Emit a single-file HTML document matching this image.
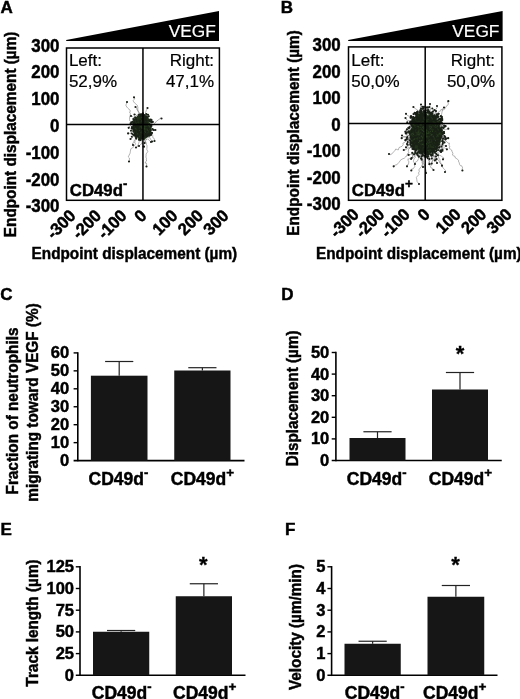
<!DOCTYPE html><html><head><meta charset="utf-8"><title>Figure</title>
<style>html,body{margin:0;padding:0;background:#fff;overflow:hidden;}svg{display:block;font-family:'Liberation Sans', Arial, Helvetica, sans-serif;}</style></head><body>
<svg width="520" height="699" viewBox="0 0 520 699">
<rect width="520" height="699" fill="#fff"/>
<text transform="translate(0.6 12.5)" font-size="17" font-weight="bold" stroke="#000" stroke-width="0.45" text-anchor="start" fill="#000">A</text>
<polygon points="66.2,40.1 219.0,11.1 219.0,40.9 66.2,40.9" fill="#000"/>
<text transform="translate(215.8 37.2)" font-size="17.3" stroke="#fff" stroke-width="0.2" text-anchor="end" fill="#fff">VEGF</text>
<path d="M138.6,129.0 138.3,128.3 138.1,127.9 137.8,126.8 138.0,124.7 137.4,123.1 138.5,121.8 138.7,121.0 138.2,118.6 138.6,117.0 138.8,114.8 138.2,114.5 138.9,112.3 137.6,111.0 137.8,109.8 137.8,107.9 137.9,107.4 137.2,105.1 136.4,104.4 134.7,103.1 133.7,101.8 133.2,100.5 134.0,99.6 134.7,98.3 134.0,97.3M133.1,127.1 133.0,125.1 133.1,123.6 131.0,122.3 130.1,120.9 129.7,120.7 129.5,119.6 129.6,117.1 130.3,115.2 130.3,113.3 129.4,111.9 130.5,111.3 129.8,110.0 128.7,108.9 128.0,108.3 126.8,107.0 125.9,105.3 126.2,104.3 126.4,104.1 127.0,102.0M143.6,120.6 142.7,120.7 141.8,119.0 141.2,117.6 140.4,115.6 140.5,114.9 139.6,113.8 139.3,113.1 138.8,112.3 137.9,110.1 136.7,109.4 136.7,108.2 135.5,107.0M147.0,132.4 147.5,131.0 147.4,128.8 148.5,127.4 150.2,127.0 151.7,126.6 152.3,124.3 153.6,124.9 154.9,122.7 156.0,122.3 156.2,121.6 156.7,121.1 158.3,119.9 160.7,118.2 161.2,118.2 161.5,118.5M141.8,123.4 141.2,124.8 140.7,125.9 141.0,125.5 140.0,126.6 140.7,126.4 139.9,126.9 138.8,128.7 138.5,131.1 137.5,132.6 137.7,134.6 136.9,136.7 135.6,139.4 135.1,140.6 134.8,142.6 135.5,143.8 134.6,145.5 133.4,145.6 133.4,146.6 133.6,147.1 130.9,148.7 130.4,151.2 130.2,152.7 130.0,153.8 129.5,154.1 129.3,154.8 128.4,156.6 128.5,157.2 129.4,158.0 129.4,160.1 129.0,161.5M147.4,130.7 147.5,130.5 146.6,132.5 146.4,132.9 145.6,133.9 145.8,135.3 146.3,135.9 146.7,136.6 146.2,139.1 145.9,140.1 145.4,141.0 146.3,143.2 146.5,144.5 147.0,145.6 147.0,147.0 146.8,149.4 147.8,151.6 146.0,154.1 146.2,154.9 145.9,157.0 146.5,158.7 146.3,159.9 146.6,161.0 145.6,161.7 145.2,163.1 146.5,163.2 146.6,164.3 146.5,166.5M145.7,126.7 146.1,126.8 146.9,128.8 147.5,130.4 148.8,131.7 150.5,132.7 150.6,132.9 152.1,133.7 152.7,135.4 152.9,137.8 154.2,138.5 154.6,140.4 154.5,141.0M141.9,128.1 142.5,129.5 142.9,130.6 144.4,132.3 144.7,134.7 143.8,136.0 144.9,137.9 145.6,138.8 146.7,139.8 147.6,138.8 148.5,139.4 149.8,141.1 151.0,142.0M143.2,126.0 142.5,127.1 141.0,129.7 140.6,129.4 140.4,129.5 139.3,130.3 138.0,131.6 136.9,131.7 136.0,133.2 136.4,134.1 134.6,135.0 134.2,135.5 132.8,137.1 131.9,138.4 130.5,139.0M140.9,126.7 140.1,126.0 139.9,125.4 139.7,123.8 138.2,123.4 137.6,122.5 136.2,121.3 135.1,119.7 134.1,117.6 133.5,117.4 132.4,116.5 131.0,116.0M147.7,122.6 147.4,122.4 147.6,121.3 146.0,119.9 146.7,119.7 147.1,118.0 146.5,115.4 145.6,115.0 145.5,112.7 146.4,110.2 147.3,108.7 147.5,108.0M142.7,132.1 142.4,133.2 141.5,133.4 140.6,135.4 140.9,137.7 142.6,139.6 142.6,139.9 142.0,142.8 142.1,144.0 141.9,143.8 141.0,144.1 139.0,146.0M144.9,126.6 144.5,126.9 144.3,128.6 144.8,130.8 144.6,131.8 143.4,132.4 143.2,133.9 142.7,136.2 142.5,137.3 141.8,138.5 140.5,138.8 140.1,139.4 139.3,141.4 138.6,143.5 138.0,145.7 137.7,145.4 138.1,146.3 136.0,147.5M142.4,122.4 141.5,124.1 142.2,126.3 142.8,128.5 140.5,129.3 140.3,128.6 140.5,130.7 139.5,131.7 138.4,133.0 138.0,134.4 136.9,136.0 136.3,138.1 136.1,138.3 134.7,139.7 133.9,141.4 134.1,142.7 132.5,143.2 132.5,143.7 133.0,145.0M143.5,123.9 144.6,122.5 145.6,123.8 146.1,123.9 147.2,124.8 147.8,126.1 147.7,127.7 147.8,127.9 150.0,128.0M136.8,127.6 137.5,127.7 138.4,128.2 139.1,128.4 141.7,128.9 143.9,128.9 145.7,128.9 146.8,130.4 147.8,129.9 148.8,130.8 150.6,131.0 151.8,132.1 152.0,133.0M139.3,129.0 140.4,129.8 139.8,130.6 140.7,130.9 141.5,130.9 142.8,132.3 144.4,132.8 146.8,134.4 147.3,135.3 147.2,136.1 148.9,138.0 149.8,137.6 150.8,139.6 152.1,141.5M144.5,133.2 144.7,131.3 144.9,131.8 144.3,129.0 145.7,127.8 145.1,126.0 143.7,125.1 143.6,123.2 143.1,121.4 143.8,119.8 144.6,117.8 144.0,116.0 143.4,114.5 144.0,114.0 143.0,113.5 142.9,113.3M141.4,124.1 140.7,124.9 139.0,125.2 137.8,125.7 135.2,125.0 133.9,125.5 132.2,124.5 131.9,124.5 129.8,126.0 129.4,127.1 128.7,127.8M138.9,127.4 139.1,126.9 139.4,125.1 138.9,123.8 138.7,122.2 137.2,120.3 137.4,119.2 137.8,116.8 137.4,116.5 135.8,114.6 134.5,114.5M142.0,125.1 142.7,126.0 144.1,127.9 145.4,129.2 146.6,130.8 148.1,130.4 149.0,131.5 149.8,132.3 150.4,133.7 151.2,134.7 151.0,134.8M139.6,120.5 140.6,119.5 140.6,117.6 141.6,116.7 144.6,116.9 145.4,116.1 146.0,115.1 147.1,114.6 148.0,114.8M143.9,134.7 142.9,133.7 142.6,131.0 142.4,128.3 142.3,128.8 143.3,128.7 144.2,126.0 144.5,124.6 144.8,122.4 143.3,122.4 144.2,121.2 143.8,119.8 142.9,119.0 143.0,117.4 142.6,115.8 142.7,114.0M144.9,128.1 143.4,128.1 143.0,129.8 142.1,129.1 140.5,130.5 139.2,132.1 137.5,133.4 136.5,132.2 134.8,132.7 133.0,132.7 132.8,133.3 132.0,132.9 129.1,133.3 128.1,133.4M143.5,130.3 143.1,131.3 142.5,133.1 143.8,134.4 143.4,134.9 143.1,136.6 142.5,138.7 141.5,139.6 142.5,142.0 142.1,143.5 144.0,145.4 142.3,146.6 144.0,146.7M144.7,119.4 146.5,119.1 147.7,120.2 146.2,119.5 147.1,118.7 147.7,118.4 149.3,118.4 149.2,119.3 150.8,119.5M142.8,129.2 143.9,128.6 145.7,128.6 146.2,129.5 148.0,129.8 148.9,130.0 150.8,130.6 151.6,130.2 153.3,130.6 155.4,130.0M144.7,134.0 146.0,133.3 147.2,131.5 147.4,132.2 146.7,130.5 147.9,129.2 148.0,127.6 149.8,126.3 150.1,124.1 151.2,123.3 152.1,123.6 152.8,121.9M138.8,127.6 140.1,128.3 140.2,129.7 141.0,130.6 141.6,132.8 141.9,134.3 142.7,136.3 144.0,137.1 145.2,138.5 144.7,139.6 144.1,141.0 145.2,140.9 144.6,143.1M141.0,130.3 141.5,130.4 141.0,129.9 143.0,130.9 145.7,131.0 146.5,130.8 146.6,131.9 148.9,131.4 151.8,130.5 153.7,130.0" fill="none" stroke="#5a5a5a" stroke-width="0.45" stroke-linejoin="round"/>
<polygon points="150.6,127.3 152.0,129.1 150.7,130.5 151.7,132.8 149.7,133.5 149.5,135.4 148.2,136.2 147.3,137.7 145.8,137.9 144.9,139.7 143.4,139.9 141.9,139.6 140.5,139.3 138.7,140.7 138.0,137.9 136.7,137.3 135.0,137.0 134.4,135.3 134.5,133.2 133.0,132.3 132.6,130.7 132.7,128.9 131.8,127.3 132.8,125.7 132.5,123.9 133.6,122.6 132.6,120.0 134.5,119.4 135.2,117.8 136.4,116.8 137.6,115.6 139.1,115.7 140.4,114.5 141.9,115.0 143.1,117.3 144.8,115.3 145.7,117.2 147.6,116.3 148.5,117.9 149.2,119.5 148.8,121.9 149.6,123.0 150.6,124.1 151.5,125.6" fill="#213019"/>
<path d="M135.9,137.9h0M141.0,116.3h0M150.9,127.0h0M132.3,128.8h0M143.9,116.6h0M144.8,123.3h0M139.6,137.2h0M149.4,135.5h0M146.9,135.7h0M145.2,134.4h0M139.7,138.1h0M151.6,120.0h0M137.9,135.3h0M142.4,115.9h0M151.4,121.4h0M150.0,131.0h0M142.5,115.1h0M136.1,126.9h0M138.4,130.0h0M134.7,133.1h0M133.6,125.2h0M147.8,124.7h0M140.0,120.7h0M133.5,127.4h0M137.4,136.2h0M141.3,116.3h0M139.0,126.5h0M137.8,126.4h0M138.8,136.0h0M149.4,135.8h0M143.3,137.8h0M133.6,123.0h0M134.8,123.6h0M140.4,128.3h0M146.2,116.4h0M146.5,130.6h0M140.7,139.4h0M148.2,128.4h0M149.7,135.6h0M140.8,124.3h0M150.9,134.6h0M139.5,133.8h0M139.6,130.7h0M135.5,135.5h0M147.2,131.6h0M135.7,126.6h0M136.1,136.9h0M133.3,119.0h0M150.1,133.8h0M134.3,128.7h0M140.2,133.4h0M138.6,126.0h0M146.4,131.9h0M141.5,130.4h0M140.8,137.8h0M148.3,135.3h0M151.6,132.8h0M130.6,123.3h0M140.9,124.6h0M138.0,129.0h0M145.6,124.6h0M132.3,128.5h0M137.9,132.8h0M146.2,120.0h0M133.0,134.6h0M140.6,140.1h0M149.5,124.4h0M150.1,121.7h0M141.7,114.4h0M131.0,130.8h0M139.4,120.8h0M134.8,133.0h0M149.7,134.2h0M146.3,114.0h0M146.9,134.7h0M131.2,122.9h0M149.9,121.0h0M144.7,120.0h0M142.4,137.3h0M144.6,123.8h0M147.2,123.5h0M141.7,137.9h0M136.7,121.5h0M139.0,139.8h0M143.8,119.8h0M139.0,126.9h0M145.8,123.4h0M149.3,120.1h0M144.1,126.9h0M134.6,135.4h0M137.6,131.2h0M136.4,138.6h0M143.6,117.7h0M135.9,135.2h0M135.6,130.8h0M132.5,121.7h0M145.9,134.0h0M144.6,117.0h0M134.2,129.8h0M143.7,120.3h0M146.4,135.3h0M144.1,126.4h0M145.3,116.9h0M135.2,125.3h0M136.1,125.3h0M149.3,121.3h0M139.9,123.2h0M151.6,122.2h0M140.3,129.2h0M131.7,133.5h0M140.2,114.3h0M137.4,119.2h0M134.8,133.8h0M136.9,119.5h0M150.0,134.0h0M147.3,126.4h0M152.6,129.0h0M140.4,137.4h0M147.4,134.8h0M143.2,114.8h0M144.8,117.1h0M138.6,115.0h0M144.6,119.9h0M141.6,134.5h0M143.5,116.9h0M139.7,131.9h0M141.8,137.2h0M137.6,128.4h0M147.0,125.6h0M144.4,118.0h0M133.1,124.3h0M134.2,122.3h0M141.1,123.2h0M147.0,136.3h0M141.7,118.9h0M137.8,124.0h0M131.1,123.3h0M145.4,132.5h0M135.7,136.9h0M140.5,132.8h0M138.5,126.3h0M143.8,136.2h0M144.6,117.3h0M134.8,119.6h0M139.8,124.9h0M144.1,131.6h0M148.4,134.1h0M142.1,134.7h0M133.7,135.0h0M145.3,118.3h0M148.0,135.7h0M140.5,116.1h0M150.7,126.4h0M136.8,125.5h0M135.1,117.4h0M131.9,127.1h0M142.7,118.6h0M133.0,127.7h0M142.7,129.6h0M133.8,128.0h0M144.7,120.2h0M149.3,133.4h0M147.5,117.3h0M150.0,124.5h0M145.8,120.4h0M144.4,136.4h0M151.4,125.9h0M140.3,130.3h0M144.3,122.3h0M148.8,116.2h0M150.7,130.3h0M131.8,136.8h0M147.1,117.6h0M141.2,135.3h0M131.4,122.9h0M148.0,128.1h0M144.7,115.6h0M146.0,120.5h0M144.3,115.0h0M135.8,133.4h0M137.8,124.7h0M138.2,126.5h0M137.8,135.6h0M148.4,129.1h0M131.7,128.5h0M133.3,131.0h0M146.4,127.4h0M138.6,132.2h0M144.2,131.1h0M146.7,120.8h0" fill="none" stroke="#182015" stroke-width="2.1" stroke-linecap="round"/>
<path d="M134.0,97.3h0M127.0,102.0h0M135.5,107.0h0M161.5,118.5h0M129.0,161.5h0M146.5,166.5h0M154.5,141.0h0M151.0,142.0h0M130.5,139.0h0M131.0,116.0h0M147.5,108.0h0M139.0,146.0h0M136.0,147.5h0M133.0,145.0h0M150.0,128.0h0M152.0,133.0h0M152.1,141.5h0M142.9,113.3h0M128.7,127.8h0M134.5,114.5h0M151.0,134.8h0M148.0,114.8h0M142.7,114.0h0M128.1,133.4h0M144.0,146.7h0M150.8,119.5h0M155.4,130.0h0M152.8,121.9h0M144.6,143.1h0M153.7,130.0h0" fill="none" stroke="#1a1f18" stroke-width="2.2" stroke-linecap="round"/>
<path d="M149.7,127.0h0M141.6,127.0h0M147.2,130.1h0M142.9,124.6h0M146.9,126.1h0M136.8,124.2h0M143.3,128.2h0M144.2,126.1h0M144.1,128.9h0M141.5,124.4h0M142.5,130.3h0M135.2,128.3h0M139.4,136.7h0M149.4,125.9h0M144.5,128.9h0M148.9,122.9h0M144.6,131.0h0M137.4,133.7h0M144.7,127.9h0M141.9,117.3h0M147.1,129.0h0M137.8,118.9h0M134.0,132.3h0M142.2,128.5h0M145.6,132.1h0M143.7,129.4h0M142.1,127.9h0M144.9,126.4h0M148.4,125.5h0M143.5,137.7h0M150.9,128.0h0M144.2,127.9h0M141.8,127.3h0M142.0,126.3h0M142.0,126.9h0M140.0,126.9h0M140.8,132.7h0M139.4,130.5h0" fill="none" stroke="#2d4225" stroke-width="1.1" stroke-linecap="round"/>
<rect x="66.5" y="48.0" width="152.9" height="152.3" fill="none" stroke="#000" stroke-width="1.5"/>
<line x1="142.95" y1="48.0" x2="142.95" y2="200.3" stroke="#000" stroke-width="1.5"/>
<line x1="66.5" y1="124.6" x2="219.4" y2="124.6" stroke="#000" stroke-width="1.5"/>
<text transform="translate(68.9 65.5)" font-size="17" stroke="#000" stroke-width="0.2" text-anchor="start" fill="#000">Left:</text>
<text transform="translate(68.9 86.5)" font-size="17" stroke="#000" stroke-width="0.2" text-anchor="start" fill="#000">52,9%</text>
<text transform="translate(214.1 65.5)" font-size="17" stroke="#000" stroke-width="0.2" text-anchor="end" fill="#000">Right:</text>
<text transform="translate(214.1 86.5)" font-size="17" stroke="#000" stroke-width="0.2" text-anchor="end" fill="#000">47,1%</text>
<text transform="translate(69.8 195.8)" font-size="16.8" font-weight="bold" stroke="#000" stroke-width="0.45" text-anchor="start" fill="#000">CD49d<tspan dy="-7.8" font-size="13">-</tspan></text>
<text transform="translate(59.5 51.6) scale(0.95 1)" font-size="17.8" font-weight="bold" stroke="#000" stroke-width="0.45" text-anchor="end" fill="#000">300</text>
<text transform="translate(59.5 78.4) scale(0.95 1)" font-size="17.8" font-weight="bold" stroke="#000" stroke-width="0.45" text-anchor="end" fill="#000">200</text>
<text transform="translate(59.5 105.20000000000002) scale(0.95 1)" font-size="17.8" font-weight="bold" stroke="#000" stroke-width="0.45" text-anchor="end" fill="#000">100</text>
<text transform="translate(59.5 132.0) scale(0.95 1)" font-size="17.8" font-weight="bold" stroke="#000" stroke-width="0.45" text-anchor="end" fill="#000">0</text>
<text transform="translate(59.5 158.8) scale(0.95 1)" font-size="17.8" font-weight="bold" stroke="#000" stroke-width="0.45" text-anchor="end" fill="#000">-100</text>
<text transform="translate(59.5 185.6) scale(0.95 1)" font-size="17.8" font-weight="bold" stroke="#000" stroke-width="0.45" text-anchor="end" fill="#000">-200</text>
<text transform="translate(59.5 212.4) scale(0.95 1)" font-size="17.8" font-weight="bold" stroke="#000" stroke-width="0.45" text-anchor="end" fill="#000">-300</text>
<text transform="translate(76.7 216.8) rotate(-45) scale(0.97 1)" font-size="17" font-weight="bold" stroke="#000" stroke-width="0.45" text-anchor="end" fill="#000">-300</text>
<text transform="translate(102.2 216.8) rotate(-45) scale(0.97 1)" font-size="17" font-weight="bold" stroke="#000" stroke-width="0.45" text-anchor="end" fill="#000">-200</text>
<text transform="translate(127.7 216.8) rotate(-45) scale(0.97 1)" font-size="17" font-weight="bold" stroke="#000" stroke-width="0.45" text-anchor="end" fill="#000">-100</text>
<text transform="translate(147.7 216.8) rotate(-45) scale(0.97 1)" font-size="17" font-weight="bold" stroke="#000" stroke-width="0.45" text-anchor="end" fill="#000">0</text>
<text transform="translate(178.7 216.8) rotate(-45) scale(0.97 1)" font-size="17" font-weight="bold" stroke="#000" stroke-width="0.45" text-anchor="end" fill="#000">100</text>
<text transform="translate(204.2 216.8) rotate(-45) scale(0.97 1)" font-size="17" font-weight="bold" stroke="#000" stroke-width="0.45" text-anchor="end" fill="#000">200</text>
<text transform="translate(229.7 216.8) rotate(-45) scale(0.97 1)" font-size="17" font-weight="bold" stroke="#000" stroke-width="0.45" text-anchor="end" fill="#000">300</text>
<text transform="translate(134.35 258.7) scale(0.93 1)" font-size="16.5" font-weight="bold" stroke="#000" stroke-width="0.45" text-anchor="middle" fill="#000">Endpoint displacement (µm)</text>
<text transform="translate(16.4 134.4) rotate(-90) scale(0.93 1)" font-size="16.5" font-weight="bold" stroke="#000" stroke-width="0.45" text-anchor="middle" fill="#000">Endpoint displacement (µm)</text>
<text transform="translate(280.8 12.5)" font-size="17" font-weight="bold" stroke="#000" stroke-width="0.45" text-anchor="start" fill="#000">B</text>
<polygon points="348.2,40.1 502.59999999999997,11.1 502.59999999999997,40.9 348.2,40.9" fill="#000"/>
<text transform="translate(499.4 37.2)" font-size="17.3" stroke="#fff" stroke-width="0.2" text-anchor="end" fill="#fff">VEGF</text>
<path d="M421.6,130.2 422.2,129.1 423.7,127.9 424.1,126.4 426.0,125.4 427.2,124.6 428.6,123.6 430.4,123.2 429.3,122.0 432.5,120.0 433.6,119.8 434.5,119.7 434.6,117.7 435.4,116.1 435.6,115.5 436.8,114.5 437.4,113.6 438.3,112.1 439.7,111.3 440.8,110.8 440.9,109.6 441.5,109.6 442.9,110.1 445.0,108.8 445.2,108.1 446.0,106.9 446.1,106.4 447.3,105.6 448.5,103.9 447.8,102.6 448.3,101.2M430.7,132.8 432.3,131.8 433.3,131.0 434.4,128.8 435.8,127.7 435.5,127.0 436.3,126.8 437.3,125.9 436.6,125.9 438.2,125.3 439.1,125.1 438.9,124.4 439.4,122.5 440.2,121.5 442.0,121.0 441.3,118.4 441.7,117.0 441.5,114.8 441.9,112.7 441.9,112.2 442.5,110.4 442.2,109.1 444.0,107.5M434.6,128.3 433.4,128.0 431.9,127.1 429.9,126.7 429.8,125.3 429.0,124.1 426.5,125.3 426.0,125.0 425.3,124.3 426.1,122.0 424.9,120.8 423.8,120.4 422.3,118.6 420.5,118.0 420.3,117.7 420.5,116.4 420.3,116.1 419.2,114.6 418.9,113.2 417.7,111.6 418.1,110.7 416.8,109.6 415.6,108.8 413.4,107.0M428.4,140.6 426.7,139.9 425.4,137.4 424.2,135.7 423.9,134.8 423.0,132.8 422.2,130.6 421.4,130.8 419.6,130.6 419.7,129.6 419.6,128.9 418.3,126.6 416.6,124.6 417.4,124.0 416.4,122.2 416.7,120.5 416.9,120.5 416.0,119.2 415.1,117.4 414.6,117.8 414.4,117.8 412.9,117.2 411.2,116.1 410.8,117.1 410.0,116.4 407.6,115.7 406.0,113.8M418.4,134.4 417.4,133.8 416.4,132.6 416.8,132.1 416.6,132.0 416.0,130.1 414.6,127.8 414.1,126.4 413.8,125.8 412.4,124.8 412.6,123.7 412.5,122.4 411.0,121.1 408.8,120.5 407.7,120.4 406.0,119.3 405.5,118.0M427.8,128.5 428.6,127.5 429.7,126.9 431.5,126.7 432.5,126.1 432.6,125.9 434.5,124.9 435.9,125.5 436.9,125.6 438.2,127.5 440.8,128.5 441.8,129.0 443.3,129.3 444.4,129.4 445.4,129.7 448.3,128.7M419.2,136.8 421.2,136.6 423.0,137.0 424.7,138.1 425.6,138.7 427.1,138.2 428.8,137.3 429.0,138.2 429.5,139.5 431.7,139.2 432.3,137.6 433.6,136.4 436.2,135.2 437.6,133.1 438.6,134.2 439.6,133.7 440.6,134.0 442.6,133.9 442.4,134.2 444.5,136.0M426.7,134.6 425.0,135.2 425.1,134.5 423.9,133.8 422.1,133.7 421.2,133.1 419.7,134.2 418.9,134.8 417.9,134.7 416.9,135.1 415.7,136.0 414.4,136.7 413.2,137.3 411.4,136.9 409.2,137.9 408.3,138.1 407.5,137.5 406.3,137.2 403.6,137.1 401.7,138.2M422.0,129.3 421.6,130.0 419.4,130.9 417.6,132.9 415.5,133.0 412.2,133.2 412.5,133.8 410.5,134.7 409.1,135.4 409.8,137.6 409.8,139.6 407.9,138.8 407.2,139.8 406.1,140.4 405.4,141.5 404.4,142.6 403.0,143.0 402.9,143.5 403.2,144.7 402.0,146.3 400.5,146.9 399.0,147.6 398.3,149.9 397.5,149.7 395.7,149.0 395.0,150.4 394.1,151.4 393.2,152.4 392.5,153.3 390.6,154.7 390.4,154.2 389.0,154.0M428.5,131.5 428.7,133.4 427.4,134.1 426.0,135.6 424.4,137.0 422.4,138.8 421.8,139.0 420.3,140.2 419.6,139.0 418.8,141.2 417.5,141.2 417.5,142.5 416.8,144.0 414.9,144.5 413.1,144.7 411.9,144.9 412.2,146.3 411.9,146.1 410.9,147.0 410.0,148.4 408.5,148.8 408.3,151.5 409.0,152.4 407.5,153.6 406.9,156.0 405.8,156.4 405.7,156.9 404.1,158.4 403.0,158.6 401.9,159.3 400.8,159.8 400.3,160.6 398.9,162.5 397.3,164.1 396.8,164.9 396.0,164.8 395.3,165.1 393.7,166.3M422.1,134.3 421.8,136.4 421.4,138.4 420.1,139.3 419.9,141.4 419.6,142.3 418.1,142.8 418.3,143.2 417.4,144.9 417.0,145.6 417.9,147.0 417.4,148.8 416.5,150.6 415.7,151.1 414.3,152.6 413.7,153.7 412.6,154.8 412.6,156.8 411.7,158.2 409.6,158.6 408.4,159.1 408.2,158.8 407.9,160.5 408.9,161.3 408.6,163.7 408.6,164.2 407.6,164.6 407.0,166.3M432.7,137.2 432.8,139.0 431.6,140.6 431.8,141.5 430.5,142.7 430.0,144.3 428.1,145.0 429.0,147.1 428.3,147.9 427.5,148.2 426.6,149.2 425.1,150.2 424.7,150.3 423.8,150.2 423.2,151.4 422.3,152.5 422.1,154.1 420.5,154.9 418.8,154.6 419.0,156.2 419.4,157.8 418.4,159.0 417.4,161.1 415.1,162.5 414.1,164.1 414.4,164.6 414.8,166.5 413.1,168.9 411.6,169.0 411.7,169.5 411.3,170.5M420.8,144.1 421.7,145.4 422.7,146.6 422.7,147.7 421.6,148.7 420.7,150.3 420.6,151.1 421.4,152.6 422.6,153.6 422.1,154.3 422.1,155.5 422.0,158.1 422.4,158.9 422.6,159.9 422.1,161.0 422.0,162.8 422.6,164.1 421.8,165.3 421.5,166.4 420.4,167.6 418.9,169.8 419.3,171.6 418.4,173.1 419.2,174.2 418.2,175.4 416.3,177.3 416.5,177.6 416.8,179.7 417.1,181.5 418.1,182.9 419.0,184.0M422.5,131.4 422.9,132.7 423.6,134.1 425.1,136.3 427.6,137.0 428.7,137.9 429.5,140.3 431.6,141.2 431.8,141.8 433.1,144.0 433.3,146.2 433.5,147.5 433.8,148.2 433.3,149.7 434.5,150.0 434.1,151.0 435.4,151.0 436.9,151.9 437.3,152.4 436.7,154.0 438.6,154.9 438.9,155.1 439.9,155.5 441.3,155.9 443.2,157.8 444.0,158.2 443.0,159.3M427.7,127.2 429.1,128.0 428.7,129.9 429.5,129.7 429.5,130.0 429.8,131.5 430.0,132.9 431.1,133.9 430.7,134.5 431.8,137.1 432.2,138.7 432.0,139.5 433.3,140.4 433.9,141.8 435.2,143.3 435.7,144.4 435.8,146.4 437.9,146.6 439.1,147.1 439.2,148.2 439.3,149.2 439.4,151.8 438.8,152.6 438.7,154.1 438.2,155.4 438.8,158.1 439.8,159.4 440.3,162.1 440.8,162.8 440.8,163.9 441.9,164.4 442.0,165.7M421.2,137.7 421.5,139.0 422.6,141.0 424.5,141.3 424.1,141.4 425.1,142.8 425.8,143.7 427.5,145.3 428.3,146.7 427.9,148.5 430.0,149.6 430.3,151.5 430.6,152.5 431.7,153.3 432.9,152.8 431.7,154.3 432.7,155.4 433.1,156.4 434.1,156.5 434.9,156.9 437.1,158.1 437.9,159.8 439.3,161.5 439.4,162.6 440.7,163.7 441.5,164.2 442.3,166.2 442.0,166.2 441.8,166.0 443.4,168.3 444.4,169.3 446.0,171.1 445.0,172.0M438.1,131.0 438.1,131.7 439.9,132.5 440.8,134.6 441.5,135.7 441.3,136.0 442.7,136.2 444.0,138.3 445.7,139.3 445.7,140.6 447.2,142.2 448.1,143.2 449.4,143.0 449.1,145.3 450.0,147.0 449.2,147.5 449.4,148.6 450.9,149.4 451.6,150.0 452.0,151.4 452.9,153.3 452.5,155.1 453.4,155.7 455.0,156.4 455.3,157.9 456.9,158.8 458.6,160.3 458.6,162.0 459.2,162.6 459.7,164.7 460.5,165.7 461.7,165.8 462.7,168.0 462.4,168.3 462.4,169.3 462.4,170.5M421.0,135.4 421.8,136.9 421.7,138.6 420.9,139.3 421.1,141.4 421.2,143.0 422.7,145.7 424.3,146.2 424.9,147.8 425.7,149.3 426.0,150.5 425.3,152.2 425.9,153.0 427.5,154.1 427.4,155.7 428.0,157.4 428.3,159.1 428.7,161.2 429.3,161.7 428.9,163.3 429.9,163.4 430.7,164.5 431.3,165.1 430.8,165.8 430.5,166.7 431.0,167.9 432.7,168.4 432.7,169.6 433.5,170.0M418.9,135.2 419.3,137.2 420.0,137.6 421.0,139.0 422.7,140.3 421.3,141.7 421.6,143.5 421.9,144.7 420.9,146.1 420.8,147.1 421.0,148.4 419.7,149.3 419.3,150.7 420.6,152.2 421.2,152.2 422.3,153.3 422.8,154.0 423.0,156.1 423.2,157.8 422.8,158.8 423.1,160.2 423.4,161.3 423.3,163.4 424.5,164.6 424.2,166.2 425.1,168.0 426.0,169.3 425.5,169.5 426.3,171.2 426.0,173.0M420.3,140.2 419.5,141.6 417.7,143.3 416.8,145.1 414.1,146.3 413.5,146.7 412.7,147.4 412.3,147.9 410.8,147.6 410.8,147.6 408.6,147.6 407.1,148.2 405.9,150.0 405.2,149.5 403.8,150.0M429.7,134.4 430.4,133.4 431.7,131.7 432.3,131.3 431.6,129.2 430.9,128.4 431.9,126.3 431.5,124.3 431.8,123.3 431.6,122.8 431.6,122.8 431.2,121.3 431.0,120.2 431.7,118.9 431.2,117.3 430.4,114.8 430.3,114.1 430.2,112.4 430.6,111.9 430.6,111.3 430.3,110.5 430.5,108.6 429.9,107.0 430.0,104.0M427.4,133.5 426.9,132.2 425.5,130.8 424.6,128.8 425.3,127.0 425.7,125.4 425.2,123.6 423.8,121.8 423.6,121.2 423.8,120.3 422.8,118.2 422.7,117.0 421.6,116.2 420.8,114.8 420.1,113.8 420.5,113.0 419.5,111.6 420.8,110.0 420.8,108.5 420.1,108.2 420.9,106.2 421.0,106.0 421.0,104.5M430.8,139.0 430.2,137.5 431.6,136.2 431.8,134.9 433.5,133.1 433.9,131.9 433.9,130.1 433.6,129.1 434.0,126.9 434.3,125.4 434.6,124.2 434.7,123.1 435.3,122.2 434.3,119.6 433.5,118.9 432.5,117.3 434.1,116.1 434.2,115.5 434.9,114.3 435.3,111.9 435.8,111.4 434.7,111.2 436.4,108.4 436.5,108.6 437.2,107.2 437.0,106.0M429.3,127.9 426.8,128.4 424.8,129.9 422.6,130.4 421.0,129.7 419.2,128.5 418.1,128.1 415.8,127.3 415.4,128.0 413.3,128.2 412.3,128.9 410.9,127.7 410.8,127.9 410.4,127.3 409.6,128.6 409.0,128.0M424.6,143.6 422.5,144.1 420.9,143.0 420.1,143.8 419.1,144.0 418.4,142.5 416.9,143.8 415.8,144.6 414.1,144.8 411.8,145.2 410.5,145.0 409.0,145.0 407.7,145.6 407.0,144.0M427.2,140.9 427.5,141.0 430.5,140.8 432.5,141.3 432.7,141.4 432.5,141.4 434.5,142.2 435.9,142.1 437.6,143.3 439.4,144.3 441.0,145.0 441.6,146.4 442.0,146.0 442.7,145.8 445.0,145.9 446.0,146.0M425.9,142.2 428.2,142.7 430.7,144.0 432.1,145.7 433.4,146.8 434.7,146.7 435.0,146.8 435.5,147.2 436.3,148.8 437.5,150.2 439.0,150.4 439.9,150.1 439.8,151.1 441.0,152.0M430.7,124.6 430.2,124.2 429.1,125.9 427.5,126.2 426.9,128.7 427.0,129.8 427.0,131.1 426.3,132.0 426.2,133.2 426.3,134.0 426.5,135.0 426.9,137.0 425.9,139.9 425.8,140.7 424.4,142.0 424.1,142.7 422.8,143.6 421.6,144.4 420.5,146.0 418.2,148.7 417.4,149.9 416.0,152.0 415.4,153.0 414.3,154.7 414.2,155.5 415.0,156.1 415.4,157.5 414.0,158.5 413.9,159.5 413.5,160.7 413.4,161.4 414.3,162.9 415.0,164.0M426.8,127.0 427.1,129.2 427.5,129.7 427.4,131.2 427.5,133.8 427.9,134.8 428.7,137.1 427.8,137.6 427.5,137.2 427.6,138.2 428.5,139.8 429.2,141.3 429.1,144.5 430.5,145.3 430.1,146.7 431.1,148.2 431.9,150.0 432.4,150.3 432.3,150.1 433.3,150.8 433.6,153.4 433.3,154.5 432.9,154.2 433.9,155.2 434.1,156.8 434.2,158.4 435.4,158.9 436.0,160.1 437.0,163.0M420.9,143.5 421.2,145.4 421.7,146.7 421.0,148.1 420.5,150.7 421.0,151.7 420.9,153.9 420.1,155.5 420.4,156.2 421.4,157.4 422.3,159.0 422.1,160.3 423.0,161.0 422.6,162.4 423.2,164.3 422.7,164.8 422.8,166.1 423.2,166.4 423.0,167.0M433.7,120.1 434.6,120.5 434.9,120.9 436.0,120.5 437.2,122.2 438.9,123.9 441.5,124.7 442.9,123.9 443.0,124.8 444.6,125.6 445.6,126.2M420.5,138.9 422.1,137.6 423.2,138.6 423.9,137.9 424.7,137.7 426.2,137.7 427.8,137.4 429.8,138.5 430.6,138.9 432.3,139.2 433.8,139.6 435.1,139.3 436.0,140.0 437.2,138.8 438.3,138.6 440.4,139.5 441.1,140.5 442.9,141.8M423.4,137.6 424.7,137.3 424.6,135.9 425.5,134.3 425.7,132.7 426.6,132.7 427.5,132.0 427.9,130.7 428.7,129.4 428.5,127.9 431.2,126.5 431.1,126.7 432.3,125.6 432.0,123.9 432.6,122.4 432.7,121.4 432.6,120.8 433.4,119.1 433.1,117.9 434.2,115.4 436.3,113.8 436.0,113.2 436.0,111.1M418.9,127.4 418.5,125.4 418.5,123.3 418.3,120.4 417.7,119.1 417.9,117.5 417.8,116.5 416.9,115.6 416.9,114.0 415.8,113.6 416.4,112.5 417.0,112.2M425.1,137.0 424.9,136.1 424.1,134.6 424.1,133.6 424.6,132.8 424.1,130.8 423.4,129.8 422.7,128.1 419.9,126.3 419.4,126.3 417.9,125.5 416.4,125.0 415.6,123.9 415.2,122.2 414.1,121.8 412.5,119.9 412.4,119.3 411.2,117.5 410.6,117.7M432.9,131.3 431.3,130.5 428.7,129.9 427.2,129.8 425.3,129.3 423.7,128.1 423.7,126.6 422.4,126.1 422.5,125.5 420.9,124.9 421.0,124.5 420.2,125.4 418.3,125.4 416.5,125.6 415.6,125.3 414.6,124.7 411.2,123.0 411.5,122.3 410.2,121.9M430.5,134.7 430.1,135.7 428.5,136.3 428.2,136.1 427.1,136.1 425.7,135.5 424.7,135.5 424.4,135.8 424.7,137.1 423.1,139.1 422.0,139.9 420.0,140.3 418.4,139.9 416.4,141.4 414.9,141.8 413.2,142.0 411.6,142.4 410.5,143.5 409.3,143.8 407.5,144.7M427.7,131.1 426.4,129.8 424.9,129.7 424.9,129.5 424.8,128.9 426.0,128.3 425.2,126.0 424.8,124.9 423.9,122.3 423.5,120.9 422.1,119.6 422.6,117.5 422.6,116.2 422.7,115.1 422.0,114.2 423.4,113.2 422.3,111.7 423.6,110.3 423.6,108.1 422.4,106.8M426.8,128.1 428.6,127.4 428.6,126.8 430.5,128.1 431.0,127.9 432.8,127.8 434.4,128.6 436.8,127.7 437.8,127.3 438.2,127.0 440.4,126.2 441.7,125.3 443.3,125.3 444.2,125.6M420.5,133.1 419.6,133.0 418.4,132.8 418.1,133.2 416.0,134.4 414.7,136.4 413.5,137.4 411.7,137.9 410.6,139.1 410.5,139.8 409.4,139.7 407.9,140.2 407.7,142.1M424.1,128.4 424.4,129.8 426.3,131.1 428.5,131.9 429.1,132.8 429.2,133.4 429.7,132.8 430.7,134.0 432.6,134.7 434.4,134.9 436.3,135.2 437.2,135.0 439.4,135.4 441.2,136.2 442.3,137.5 442.4,138.6 443.1,138.7M430.9,132.0 430.1,132.8 428.1,133.0 426.3,133.2 425.3,133.4 424.6,133.8 422.8,134.0 422.7,133.1 421.6,134.6 420.7,136.6 420.1,136.0 418.4,136.0 416.6,136.5 415.6,137.7 413.8,137.8 412.4,138.5 410.3,139.8 409.5,139.9 408.8,139.7 406.6,139.2M427.4,144.4 425.5,144.6 423.7,145.4 423.5,145.1 423.1,147.2 421.9,147.9 421.4,147.2 419.7,148.3 418.7,149.5 417.0,150.1 415.4,150.0 414.9,152.0 413.2,153.0 412.7,154.7 411.2,154.3 410.5,154.4 408.6,154.9M425.4,134.1 424.0,132.0 421.3,131.8 421.1,131.6 419.1,131.7 417.2,132.1 416.3,132.2 414.5,132.1 411.9,132.5 409.8,131.9 409.3,132.1 408.3,130.4 408.2,129.6 406.0,130.2 406.9,129.4M431.5,140.0 431.6,141.8 431.5,141.5 430.6,142.4 429.7,143.7 429.3,145.5 430.6,146.2 430.9,148.8 430.6,148.8 430.2,151.0 430.4,151.2 430.3,152.4 429.6,154.3 427.4,156.6M435.2,131.0 433.6,131.0 433.1,131.6 430.8,131.1 430.4,132.8 428.6,134.9 427.4,136.0 425.8,137.8 424.8,138.8 424.2,139.2 424.4,140.5 423.1,140.6 422.4,141.7 421.5,141.9 421.6,142.9 421.5,144.4 420.6,144.9 418.8,146.6 417.8,148.6 418.1,150.1 417.3,151.9 417.8,152.9 417.5,155.1M421.2,138.1 419.6,137.9 418.9,137.2 417.8,137.8 416.9,137.7 415.6,137.1 414.9,136.4 413.2,135.4 411.5,134.9 410.1,134.2 410.4,132.8 409.1,132.8 407.7,132.3 405.3,131.8M430.2,128.4 429.7,128.0 429.1,127.1 427.2,126.9 428.2,126.8 428.7,123.6 427.4,122.2 426.7,120.6 424.5,119.3 422.5,117.9 422.4,118.2 422.0,117.6 419.8,115.6 419.5,114.9 418.8,113.2 417.6,112.4M434.7,132.8 433.6,133.4 434.8,131.9 436.5,131.4 436.8,129.9 438.0,128.9 439.7,127.4 439.8,125.3 440.3,125.8 439.3,125.1 439.1,123.3 441.2,120.7 441.5,117.9 441.6,117.2M425.6,139.8 426.2,138.2 426.3,137.3 426.0,134.3 425.7,133.3 425.9,130.6 425.3,129.9 424.7,129.3 423.8,126.6 422.9,127.1 422.4,125.3 422.8,123.6 421.3,121.9 422.1,119.4 421.1,118.0 421.3,116.2 422.7,114.7 421.7,113.5 421.9,112.2 421.8,112.5 422.9,111.7 422.9,111.0 423.5,109.9 422.9,109.5 423.3,107.4 423.9,106.9M429.2,131.4 428.9,129.6 428.5,129.1 428.9,127.0 429.1,126.6 430.2,125.7 429.4,124.2 428.8,122.4 427.7,121.1 427.8,119.3 429.1,117.7 429.6,117.9 429.4,118.0 429.6,118.2 430.1,116.1 429.5,113.7 429.0,111.9 429.1,109.0 427.5,107.3M422.4,139.0 421.2,139.7 420.6,139.7 420.0,141.8 419.7,142.5 420.2,144.1 419.6,146.2 419.8,146.8 418.9,147.9 418.0,149.6 417.6,150.9 417.3,153.2 416.7,153.3 414.2,154.3 413.2,155.5 412.3,156.8 412.4,158.0 411.1,159.0M429.0,128.8 430.4,129.1 431.4,128.3 432.0,127.9 432.9,127.9 434.8,128.0 435.4,129.3 436.9,128.2 438.4,127.5 439.8,127.6 441.6,126.7 443.4,127.9M418.5,137.9 419.0,136.9 420.3,135.1 420.1,134.2 420.7,133.0 421.1,131.6 421.5,130.0 421.9,128.3 421.7,125.8 421.3,124.6 420.9,123.4 421.9,122.0 421.4,120.5 420.1,120.0 421.4,117.9 423.7,115.9 424.5,114.8 425.8,114.4 426.8,114.2 427.2,113.5 426.6,113.7 426.8,113.0 427.1,111.2 426.5,109.6 426.4,107.5M426.3,136.9 425.5,136.4 424.4,137.3 424.0,136.9 422.6,137.4 419.9,137.8 418.0,137.2 416.6,137.8 414.2,138.1 414.3,137.2 413.5,138.8 412.2,139.3 410.8,139.2 407.9,139.0 408.3,140.2 406.7,140.4 405.3,140.2M421.6,143.1 420.2,143.7 418.8,144.3 417.5,142.7 415.9,142.2 415.5,142.1 413.5,142.7 412.7,142.3 411.1,142.5 409.9,140.8 408.8,140.5 407.5,139.5 406.6,137.9 406.1,136.8 404.0,136.5 404.0,136.7 402.0,135.5M429.6,135.7 428.6,136.0 425.9,136.9 423.6,136.8 421.6,136.9 421.2,137.1 419.3,136.8 417.9,136.4 417.3,135.5 416.3,134.5 415.5,134.8 414.4,135.5 414.1,135.3 413.0,134.1 411.0,134.7 408.1,135.7 407.3,134.9 406.2,134.1 405.8,133.4M433.1,133.5 431.6,135.1 431.4,136.3 431.6,136.7 429.8,137.4 429.5,138.5 428.2,139.6 426.6,140.6 426.4,141.7 426.2,141.3 425.4,141.9 424.5,142.4 424.0,143.7 424.0,144.5 423.2,145.6 421.3,147.0 420.2,148.4 419.9,149.5 420.3,151.2 420.1,151.3 418.7,151.7 417.8,152.0 416.4,153.7 414.4,156.5 413.7,157.3 411.5,158.2M428.3,139.9 427.3,138.5 428.9,137.7 430.4,137.5 431.9,136.2 432.9,135.5 431.8,134.9 431.8,134.3 432.2,132.2 433.7,131.2 434.4,128.9 434.9,128.2 435.8,126.4 437.3,124.5 438.2,124.1 439.2,122.4 440.0,120.0 441.1,119.2 442.0,118.6 441.2,118.8M427.1,141.0 424.4,140.8 423.1,139.1 422.7,138.4 423.4,139.1 422.3,138.5 421.7,137.6 420.0,136.1 418.0,134.5 417.4,134.5 414.7,132.4 413.3,131.7 412.5,131.9 411.7,130.3 411.6,127.7 410.3,126.9 409.9,125.7 409.7,124.7 407.9,123.7 407.6,123.0 407.3,122.4M431.1,139.4 429.1,138.0 429.2,136.1 429.1,134.4 429.2,132.5 429.6,130.1 428.5,127.8 429.9,126.9 428.7,126.0 428.5,125.7 427.5,124.5 427.9,123.5 428.8,124.5 429.5,124.2 429.4,120.4 429.0,118.3 427.5,116.2 427.6,114.5 428.3,113.3 427.4,112.7 426.4,111.0 425.8,110.8 424.1,110.6 424.0,109.8 422.8,108.8M431.2,134.9 431.3,136.6 431.1,137.8 431.1,139.9 431.5,140.1 430.4,141.3 430.5,141.8 430.5,142.3 431.4,144.8 431.4,147.1 430.8,147.6 430.4,149.2 429.9,150.6 428.9,151.7 429.3,153.4 428.5,154.9 428.9,156.0 428.9,157.4 429.4,159.1M431.3,134.7 431.1,133.1 430.1,130.9 429.7,130.2 429.8,129.0 429.4,127.8 427.9,126.7 427.4,125.7 426.3,126.2 426.2,124.7 426.3,123.5 426.0,121.8 426.1,120.4 425.3,119.3 424.4,118.9 423.5,118.3 422.6,116.0 422.2,114.8 421.7,113.1 420.1,112.5 420.3,111.0M425.8,124.4 427.4,123.2 428.9,123.7 429.9,123.0 430.5,122.2 431.1,122.4 432.0,122.5 433.9,122.1 435.1,121.7 436.1,122.6 436.3,122.2 438.5,121.2 441.3,120.3M427.8,142.4 429.5,141.2 431.1,139.2 432.5,137.3 433.2,135.4 433.8,134.4 435.3,134.1 437.0,133.5 437.5,133.7 438.3,132.3 438.0,130.5 438.4,129.2 437.9,127.9 438.1,126.5 438.6,125.2 439.5,124.5 439.4,123.2 440.0,123.7 441.0,122.6 441.6,120.7M432.1,123.8 432.5,123.7 433.0,124.5 435.4,124.3 435.7,125.5 438.4,125.5 440.3,125.3 441.5,125.0 441.4,126.1 443.3,126.3 444.9,126.6M427.9,149.8 426.2,148.3 425.5,146.4 425.1,145.4 422.4,144.3 420.8,145.0 419.1,144.7 417.7,144.0 416.0,144.1 415.5,142.5 415.4,142.0 413.7,140.2 412.6,139.6 411.0,138.7 410.6,136.5 410.7,136.1 408.9,135.5 406.4,135.0 406.9,135.2 406.5,133.9 406.8,132.8M423.4,126.1 422.4,124.3 421.7,122.9 420.4,122.4 420.8,121.6 419.6,120.4 419.2,118.5 418.5,116.7 417.4,116.9 416.5,117.0 416.1,115.3 416.2,113.4 414.7,112.8M425.0,140.8 426.0,142.4 425.9,143.6 426.2,145.0 425.6,146.8 425.2,148.1 424.2,149.1 423.3,149.9 421.1,150.2 420.2,152.0 419.0,153.4 417.8,155.1 418.9,155.9 418.7,156.6M422.9,124.2 422.4,125.7 422.0,124.5 420.5,125.2 419.4,125.7 416.2,126.0 414.5,127.0 414.2,128.4 412.7,129.2 412.0,128.5 409.9,128.4 409.5,129.6 407.4,129.6 405.9,130.7 405.5,131.5M419.5,134.8 418.2,133.8 415.5,132.1 415.9,132.0 415.5,129.6 415.5,129.1 414.9,127.1 414.0,127.3 413.2,126.5 412.4,125.5 412.1,122.6 411.6,120.6 412.9,120.6 413.5,118.5 413.2,117.2M423.5,140.4 423.7,138.7 425.0,136.7 425.3,133.7 425.9,132.8 426.2,131.2 427.0,129.8 427.8,127.0 427.8,126.1 427.8,124.4 428.0,123.6 428.6,123.4 428.8,121.8 430.4,121.1 429.5,119.9 429.9,117.5 430.5,117.1 429.9,115.9 430.4,116.7 433.0,114.6 433.2,113.5 432.6,112.5 433.1,111.0 434.1,111.5 434.4,110.0M418.1,128.6 419.8,128.1 421.0,127.5 421.8,126.6 423.6,126.4 423.9,126.7 425.8,126.4 427.0,127.3 427.4,127.4 429.5,126.1 430.2,126.2 431.2,125.0 432.1,124.0 433.3,123.2 435.0,122.3 436.1,122.2 437.9,121.1 438.8,120.3 441.0,120.5M422.6,133.2 422.6,131.7 423.5,129.1 424.8,129.0 425.3,127.4 423.9,126.7 425.1,125.9 426.0,124.7 426.6,123.7 426.3,121.5 425.7,120.6 426.1,119.7 426.1,118.9 426.3,118.0 425.9,116.9 425.7,115.0 425.7,112.8 425.3,110.3M421.2,141.2 422.3,140.2 421.7,137.0 421.2,136.0 420.9,134.1 421.1,132.2 421.0,130.5 420.4,130.4 421.2,129.5 420.2,128.7 420.1,127.7 420.7,125.5 420.7,124.2 420.8,123.1 420.3,122.6 419.4,122.8 419.9,121.8 418.7,119.4 417.4,118.1 417.4,117.2 417.3,115.6 415.4,113.7M428.8,131.5 429.7,132.9 430.8,135.2 428.8,136.2 429.9,138.6 430.0,140.2 430.8,142.7 431.9,143.4 431.6,144.2 431.5,146.2 432.0,147.8 432.2,150.8 432.8,151.9 433.3,153.2 433.2,154.2 431.4,154.7 431.5,154.9 430.8,155.1 429.4,156.5 429.3,156.8 429.5,159.5 429.9,160.8 428.9,162.6 429.5,162.7 429.3,164.8 429.4,164.2M426.6,134.3 427.2,135.1 428.3,136.3 430.5,137.4 431.3,138.4 431.0,139.3 431.5,138.7 433.8,139.9 435.0,141.1 435.5,142.5 437.2,144.0 437.4,145.6 438.5,146.0 439.2,147.3 439.5,148.4 439.7,148.7 439.8,148.9 442.5,150.7M425.9,124.8 427.8,124.5 427.8,123.2 430.1,122.4 432.6,120.9 433.5,119.4 434.0,117.4 435.2,118.0 436.4,117.1 436.0,116.3 437.1,114.6 437.0,114.4M430.9,130.7 430.5,132.0 430.0,131.8 429.4,134.2 428.4,135.5 428.4,135.6 429.5,138.6 430.1,139.9 431.2,141.9 429.3,143.6 429.7,145.1 430.5,146.4 430.9,147.0 430.5,148.1 430.4,150.5 431.5,151.7 432.3,152.7 431.4,154.0 431.4,155.7 431.6,156.9 431.9,158.9 432.2,160.3 433.3,160.5 431.7,161.4 432.4,161.5 431.7,163.6M423.3,138.5 421.9,139.3 420.8,138.8 419.8,138.9 418.0,138.7 416.4,140.3 416.1,142.0 414.5,142.5 412.8,142.1 413.3,143.6 412.7,144.4 411.2,145.2 409.9,144.7 408.5,145.8 406.0,147.3M423.0,141.5 424.2,140.9 425.2,140.6 426.9,139.7 428.9,139.2 429.6,139.6 429.8,139.9 431.1,140.0 432.2,139.5 434.0,140.0 434.8,140.0 436.8,139.6 438.7,139.2 441.5,139.2 442.7,139.3 443.1,138.3 443.6,138.9 445.5,138.7M415.1,120.1 415.4,122.7 416.9,124.7 416.4,125.7 415.8,126.9 417.7,129.1 417.2,130.2 417.9,130.6 419.3,131.0 419.9,132.6 420.3,132.3 420.6,134.2 420.5,133.9 420.9,135.0 420.6,136.3 421.6,138.6 421.5,139.6 421.9,140.7 423.1,141.6 423.0,144.2 421.6,144.4 422.5,144.5 424.3,145.6 425.8,147.2 425.6,148.6 428.3,149.7 428.7,149.6 430.1,150.9 430.2,152.3 431.0,153.5 432.9,152.9 433.4,154.4 433.8,155.8 435.3,156.8 436.4,159.2M419.6,132.7 421.1,135.3 423.3,134.9 425.1,134.0 426.3,135.9 426.9,136.9 427.8,136.7 428.8,138.3 429.1,139.6 430.2,139.0 431.2,140.4 432.5,142.9 434.1,143.5 434.5,144.8 436.4,146.2 437.1,146.5 437.9,148.3 439.3,148.8 440.1,148.0 441.0,146.4 442.1,147.5 443.9,148.1 444.6,147.9 445.5,148.5 446.9,149.3M427.2,131.5 428.7,132.4 429.7,132.2 431.8,131.6 433.6,131.7 433.5,132.9 434.0,134.1 435.1,134.5 437.1,135.0 438.1,134.6 440.0,134.9 441.2,135.1 442.9,135.5 443.7,136.3 445.4,137.5 447.1,137.1 448.2,138.2M421.1,127.3 421.6,126.1 423.2,126.4 423.5,126.9 425.1,127.7 426.7,128.8 427.8,129.5 428.6,128.7 429.9,129.5 430.7,131.0 432.8,132.2 434.5,132.4 435.9,133.8 437.4,133.8 439.4,134.5 440.3,135.1 441.6,135.3 442.5,135.2 444.3,136.0 445.0,136.9M422.1,128.0 422.6,127.6 422.1,125.8 423.1,124.5 423.5,122.9 424.0,121.8 424.8,120.1 425.5,117.7 427.2,117.8 428.4,116.8 428.2,114.6 430.0,114.0 430.3,113.9 431.4,113.7 432.5,112.4 432.9,111.7M423.6,136.7 423.7,138.4 423.3,139.3 423.8,140.2 422.0,141.4 423.3,141.7 423.7,142.1 424.8,143.2 426.1,144.0 426.1,145.1 427.6,146.3 429.4,148.0 429.7,148.9 430.3,150.2 431.3,151.8 431.3,153.3 433.6,154.9 432.2,157.3 433.3,159.4 434.3,159.9 434.9,160.4M425.1,129.6 425.1,129.5 424.0,131.3 422.9,131.9 421.3,132.7 421.3,133.5 420.9,134.1 418.7,134.8 418.5,135.0 416.6,136.7 415.6,137.5 415.4,139.5 414.3,141.9 414.5,143.3 413.7,144.6 413.0,146.4 412.8,148.4 412.5,148.9M429.2,146.7 430.6,145.5 432.3,144.1 433.2,143.0 435.0,143.6 436.2,144.0 436.7,141.1 437.1,139.6 437.8,138.2 438.1,137.7 439.0,135.8 439.9,135.0 440.9,134.6 441.5,133.4 443.2,132.1 443.8,132.0M428.7,133.4 431.0,134.6 431.2,134.7 432.6,135.5 433.7,134.8 435.2,135.2 436.0,135.6 437.3,136.0 438.3,136.6 440.0,137.1 441.3,136.4 442.5,137.6 444.2,139.1 445.3,139.4M428.4,140.0 427.8,139.2 426.4,138.8 425.2,137.6 425.0,136.4 423.5,134.4 422.9,133.7 422.1,132.1 420.7,130.2 419.8,129.8 419.8,129.1 418.8,128.1 416.7,127.6 416.5,125.5 416.2,123.1 415.0,121.8 414.2,121.2 414.3,120.5 412.5,119.2 413.5,118.2 412.3,116.1 411.2,115.9 411.0,116.2M428.1,140.6 428.5,143.1 429.6,144.6 432.0,145.9 434.1,145.9 435.5,146.7 437.0,147.8 438.2,148.1 439.8,149.0 440.2,149.6 439.9,150.5 440.2,151.2 441.0,150.5M416.7,137.9 418.0,136.9 418.9,136.9 420.2,135.8 420.7,135.3 421.0,135.2 422.3,136.2 425.0,135.5 426.3,135.6 427.4,135.9 429.6,135.4 430.9,134.5 432.9,135.4 434.4,135.1 435.8,134.9 437.0,135.9 439.1,136.3 439.5,136.4 441.9,135.8 443.2,137.6 443.3,137.2 445.3,137.8 446.2,138.7M427.4,132.0 427.4,131.3 427.7,129.3 426.9,128.1 427.4,127.9 426.5,125.9 426.9,125.7 426.8,124.6 427.1,123.0 427.2,121.4 427.5,118.4 428.2,117.6 428.4,115.9 428.6,115.6 428.3,113.1 428.2,111.6 428.2,110.6 427.6,108.5 427.9,107.6M421.6,123.4 423.0,123.1 425.3,122.2 426.7,122.2 428.1,121.9 428.8,122.0 429.7,121.7 429.8,121.1 430.9,121.1 431.7,120.6 433.6,120.1 435.3,120.8 436.4,120.8 437.2,120.3 438.9,119.9 440.9,120.4 442.1,118.4M422.4,119.7 422.2,119.2 422.5,119.0 423.6,118.3 424.4,116.8 425.5,115.4 427.7,115.0 429.8,114.5 431.6,113.3 431.7,113.5 433.2,114.5 435.9,114.2 438.5,114.0 438.7,113.8M423.2,143.6 422.0,143.2 420.1,142.7 418.5,142.1 416.7,142.2 415.1,141.3 414.6,140.1 414.5,141.1 413.8,139.8 412.2,138.9 410.6,139.1 410.4,138.7 409.1,138.9 407.1,137.8M425.8,137.0 425.3,136.4 424.9,135.8 423.5,133.6 422.5,132.1 422.2,131.0 422.3,129.8 421.4,128.0 421.9,127.4 421.3,126.0 419.9,123.4 418.9,122.7 419.7,121.1 419.8,119.2 419.6,117.3 419.4,116.6 419.0,115.9 418.9,114.6 418.5,112.7 416.1,112.9M419.8,128.6 420.8,129.5 421.6,130.9 423.2,131.2 424.7,131.6 426.5,133.1 428.4,132.8 429.5,133.7 431.2,134.4 431.9,135.3 434.0,136.3 433.7,137.0 434.1,138.6 434.9,140.1 435.9,140.3 436.1,140.3 436.2,141.8 436.6,142.9 438.5,143.3 439.4,145.0 440.7,145.7 441.1,147.1 441.6,148.3 442.4,149.7M421.1,126.8 421.9,127.5 424.7,126.2 425.6,126.6 426.5,125.4 426.2,125.5 427.0,124.4 428.8,124.0 431.0,122.5 432.6,121.5 433.8,121.9 433.3,121.6 434.0,120.2 435.2,119.3 437.8,117.9 438.5,116.8" fill="none" stroke="#5a5a5a" stroke-width="0.45" stroke-linejoin="round"/>
<polygon points="442.1,133.5 442.2,136.6 441.0,139.3 440.5,142.3 440.0,145.4 437.2,146.3 436.9,150.2 434.2,150.5 432.0,151.1 430.5,154.1 428.3,155.1 425.9,154.8 423.7,153.7 421.5,153.2 418.7,154.2 418.0,149.6 415.3,149.5 412.7,148.6 412.5,144.8 411.8,141.9 410.6,139.4 410.3,136.5 408.3,133.5 409.9,130.5 411.8,128.0 410.5,124.3 411.1,121.0 412.4,118.1 416.4,119.1 416.5,114.3 418.9,113.5 421.5,114.0 423.6,112.1 425.9,110.9 427.8,116.6 430.3,113.9 432.3,115.0 434.7,115.4 436.9,116.8 436.4,121.5 441.2,120.6 439.6,125.3 441.0,127.7 442.9,130.3" fill="#213019"/>
<path d="M425.9,154.1h0M440.3,136.9h0M439.0,138.3h0M421.6,126.4h0M441.4,130.2h0M439.8,131.3h0M436.5,125.4h0M420.8,139.4h0M436.3,136.2h0M432.8,140.8h0M415.4,137.4h0M422.1,153.7h0M432.8,132.0h0M436.9,146.8h0M431.6,121.9h0M418.5,151.7h0M428.5,144.5h0M423.3,125.7h0M434.2,144.4h0M416.7,144.3h0M437.0,126.4h0M416.4,117.4h0M413.6,149.2h0M437.9,120.2h0M421.9,143.0h0M429.1,120.6h0M435.5,132.8h0M428.0,127.1h0M425.5,147.0h0M416.2,114.8h0M416.7,130.9h0M416.9,114.2h0M421.1,108.5h0M436.9,136.4h0M421.8,115.0h0M426.5,142.4h0M441.6,130.4h0M434.8,119.1h0M418.9,156.5h0M418.1,142.9h0M417.1,125.3h0M435.7,144.9h0M417.5,116.5h0M427.4,112.8h0M430.3,140.9h0M420.0,122.8h0M411.8,130.1h0M429.2,113.7h0M429.3,139.3h0M424.1,149.3h0M420.5,145.6h0M415.0,137.4h0M434.3,135.2h0M429.5,112.4h0M440.8,116.1h0M421.9,135.0h0M431.8,121.0h0M426.4,127.8h0M418.3,141.9h0M440.2,130.6h0M427.5,130.3h0M424.3,130.2h0M407.4,137.0h0M440.6,119.4h0M421.7,141.9h0M430.3,137.3h0M410.6,144.2h0M441.0,119.7h0M428.3,139.9h0M425.9,124.1h0M435.7,118.8h0M440.8,137.7h0M439.5,139.9h0M421.6,147.0h0M427.8,140.8h0M432.8,151.9h0M433.0,142.8h0M426.7,129.9h0M422.5,132.5h0M430.9,128.6h0M432.6,132.8h0M414.0,154.3h0M432.3,155.1h0M430.0,137.3h0M420.7,142.1h0M429.1,118.8h0M423.0,151.2h0M409.6,127.0h0M436.0,156.3h0M420.6,132.7h0M419.7,137.4h0M432.4,123.2h0M434.2,127.2h0M419.4,128.5h0M437.2,120.5h0M416.0,143.7h0M427.1,154.1h0M430.8,114.3h0M419.9,144.3h0M421.5,159.6h0M421.7,130.6h0M420.5,131.3h0M419.2,147.3h0M414.0,122.9h0M414.6,118.5h0M430.5,122.2h0M433.8,116.1h0M415.5,136.8h0M411.5,129.6h0M441.3,136.3h0M440.8,137.4h0M410.4,144.4h0M439.6,135.8h0M420.7,133.2h0M414.4,131.8h0M414.2,134.2h0M422.1,131.9h0M422.6,155.7h0M430.7,148.5h0M430.9,123.0h0M417.8,118.6h0M442.8,143.3h0M413.5,117.4h0M423.5,142.2h0M429.8,134.9h0M428.2,128.6h0M414.4,144.8h0M435.6,140.5h0M441.9,127.3h0M431.0,151.8h0M421.4,116.4h0M431.3,155.1h0M444.1,133.3h0M424.2,125.9h0M431.2,132.3h0M431.3,130.4h0M438.5,138.0h0M426.2,127.0h0M427.1,146.1h0M414.6,138.3h0M421.8,134.8h0M435.8,137.3h0M434.1,148.8h0M423.1,123.0h0M424.5,148.5h0M424.9,111.6h0M412.4,138.4h0M420.4,138.2h0M410.1,140.3h0M420.8,149.4h0M438.9,119.4h0M412.5,119.4h0M432.4,113.9h0M415.0,136.5h0M426.0,141.5h0M434.9,124.1h0M420.8,150.1h0M433.7,141.3h0M416.5,153.8h0M428.1,141.7h0M424.4,112.1h0M437.4,117.6h0M425.8,112.3h0M439.6,124.4h0M412.9,142.7h0M411.3,117.4h0M425.1,149.2h0M425.5,152.1h0M410.4,142.6h0M424.8,124.9h0M428.4,111.2h0M428.1,145.1h0M431.0,143.5h0M419.9,117.8h0M427.4,157.5h0M434.8,125.8h0M428.8,120.2h0M411.3,142.0h0M427.7,111.1h0M422.4,146.8h0M436.8,122.7h0M428.5,117.0h0M421.8,151.9h0M420.4,110.0h0M442.6,140.4h0M420.4,142.2h0M422.6,123.3h0M410.7,133.2h0M430.3,154.5h0M413.5,146.9h0M414.3,129.7h0M413.0,147.0h0M429.1,122.5h0M440.7,129.0h0M437.5,133.2h0M428.6,112.1h0M417.3,120.4h0M419.7,126.0h0M425.4,127.7h0M433.9,141.2h0M431.9,137.6h0M437.8,126.8h0M428.2,131.9h0M421.8,149.0h0M443.9,131.9h0M423.5,112.1h0M419.0,141.5h0M428.0,156.2h0M419.3,147.9h0M439.7,129.8h0M412.7,135.5h0M423.0,132.4h0M440.0,131.3h0M436.9,130.9h0M427.6,152.0h0M433.1,137.2h0M437.1,124.2h0M410.6,137.7h0M415.0,133.6h0M421.3,114.2h0M438.8,128.0h0M421.2,153.5h0M418.0,120.0h0M430.8,113.5h0M412.8,143.4h0M413.7,142.4h0M421.5,156.2h0M428.8,124.7h0M410.3,133.3h0M411.4,125.5h0M420.0,112.1h0M422.8,133.3h0M415.0,118.0h0M429.6,117.2h0M421.4,139.5h0M424.3,115.7h0M420.5,134.0h0M426.0,117.3h0M420.8,122.9h0M432.6,153.2h0M415.6,113.8h0M432.5,115.9h0M413.4,126.7h0M443.2,127.7h0M417.7,111.6h0M432.9,137.9h0M422.0,125.4h0M414.4,142.2h0M417.5,126.7h0M419.9,112.7h0M417.6,120.3h0M429.8,127.3h0M432.9,127.3h0M420.1,127.9h0M425.1,144.2h0M440.3,139.0h0M434.7,118.9h0M420.6,122.4h0M439.1,141.8h0M421.8,119.2h0M431.4,122.1h0M418.8,140.3h0M429.0,120.0h0M410.8,136.5h0M428.6,143.5h0M424.0,111.6h0M432.1,149.7h0M421.6,122.5h0M418.6,151.7h0M438.3,144.6h0M420.2,152.2h0M430.1,151.7h0M428.3,128.1h0M425.3,156.3h0M427.0,130.1h0M433.3,124.3h0M422.6,135.4h0M415.4,151.6h0M434.5,115.2h0M417.3,129.7h0M421.1,135.6h0M418.9,140.5h0M424.9,121.7h0M428.1,141.4h0M421.4,111.3h0M427.4,123.3h0M411.2,145.7h0M437.9,125.9h0M436.7,138.3h0M416.4,137.0h0M426.3,138.2h0M435.3,127.9h0M414.1,145.7h0M415.4,134.1h0M441.8,116.8h0M413.6,127.5h0M422.2,135.1h0M417.2,118.2h0M417.7,142.1h0M433.5,117.2h0M429.3,137.6h0M425.3,157.0h0M416.1,141.6h0M410.0,140.6h0M417.6,152.9h0M422.3,117.3h0M433.7,133.7h0M444.5,142.4h0M419.4,118.9h0M416.6,116.4h0M431.4,112.6h0M428.1,154.4h0M423.0,145.6h0M441.5,146.5h0M424.6,114.5h0M416.7,113.8h0M425.5,155.2h0M435.0,129.9h0M412.6,130.6h0M442.0,123.1h0M427.1,125.4h0M422.1,118.6h0M422.1,130.1h0M433.2,134.3h0M415.6,114.6h0M414.9,128.7h0M435.8,142.8h0M423.9,141.8h0M438.0,131.8h0M421.1,115.5h0M429.6,120.6h0M435.7,129.7h0M430.4,137.2h0M427.6,140.2h0M420.3,117.8h0M429.1,130.8h0M437.5,147.5h0M421.0,136.7h0M436.8,120.8h0M420.7,144.0h0M425.5,150.0h0M416.8,128.3h0M429.7,138.7h0M442.5,144.5h0M425.6,147.6h0M429.5,136.9h0M420.4,131.3h0M413.3,122.6h0M412.2,138.7h0M437.3,147.9h0M435.5,117.2h0M411.2,124.6h0M438.7,131.8h0M413.1,119.1h0M426.0,150.3h0M414.0,144.7h0M430.1,127.5h0M426.6,149.1h0M420.2,151.4h0M419.6,117.5h0M427.5,128.2h0M422.8,154.4h0M421.5,132.4h0M435.8,116.2h0M441.8,130.0h0M429.0,148.7h0M415.4,123.6h0M435.3,141.5h0M439.3,123.3h0M428.2,134.9h0M415.4,150.9h0M430.7,119.3h0M436.2,149.8h0M417.1,144.3h0M440.7,138.4h0M424.7,126.0h0M411.3,146.8h0M413.7,133.5h0M413.8,146.5h0M424.2,142.7h0M419.3,120.0h0M430.5,124.1h0M436.3,151.1h0M436.2,141.1h0M434.7,124.3h0M414.2,141.4h0M437.7,138.2h0M416.7,119.2h0M428.5,110.9h0M414.6,121.0h0M441.7,127.5h0M423.6,111.1h0M420.9,113.4h0M416.9,136.5h0M416.6,114.5h0M434.3,128.6h0M432.1,138.6h0M433.8,148.8h0M416.7,149.6h0M427.9,124.0h0M433.7,120.1h0M411.7,143.2h0M434.6,137.5h0M419.0,139.3h0M411.6,130.3h0M431.8,158.5h0M432.6,118.4h0M434.4,151.9h0M434.9,152.7h0M426.7,115.8h0M436.4,116.0h0M434.2,136.1h0M412.7,135.3h0M437.7,138.1h0M409.1,131.4h0M416.8,140.3h0M436.9,143.1h0M422.5,152.8h0M440.3,151.1h0M429.0,148.4h0M427.7,158.2h0M410.2,122.7h0M416.0,150.1h0M426.9,128.3h0M413.6,147.9h0M416.7,122.7h0M433.5,149.1h0M414.8,117.9h0M437.9,155.2h0M439.2,119.1h0M412.8,135.5h0M442.7,134.3h0M416.2,113.8h0M415.7,140.4h0M412.8,135.1h0M432.6,135.2h0M418.3,118.3h0M435.4,128.1h0M418.7,147.7h0M423.5,115.6h0M420.7,116.7h0M440.4,121.9h0M435.3,134.6h0M423.0,140.4h0M426.7,138.4h0M421.0,110.0h0M423.8,138.6h0M427.4,145.4h0M436.3,154.0h0M423.5,108.3h0M433.9,131.4h0M425.3,128.3h0M421.3,133.6h0M414.1,142.0h0M426.1,152.9h0M434.4,136.7h0M439.6,141.8h0M427.1,110.3h0M441.2,122.4h0M415.3,149.8h0M440.0,118.9h0M419.3,137.7h0M416.4,126.4h0M421.1,139.3h0M408.2,131.9h0M432.3,108.5h0M427.2,117.7h0M437.4,144.7h0M419.1,122.9h0M412.6,133.1h0M421.0,121.7h0M430.3,118.7h0M438.0,147.5h0M418.0,143.4h0M442.2,123.4h0M431.4,125.5h0M438.1,150.1h0M429.1,131.2h0M435.8,148.6h0M433.5,150.5h0M420.1,140.2h0M424.2,136.5h0M421.0,158.2h0M438.5,138.1h0M434.0,128.4h0M431.6,128.9h0M442.2,141.2h0M415.6,117.3h0M431.6,129.3h0M421.3,116.3h0M415.3,152.8h0M429.1,111.8h0M419.7,136.6h0M441.4,136.8h0M435.3,120.9h0M436.8,141.9h0M424.2,155.6h0M428.7,118.1h0M412.2,152.9h0M418.9,122.7h0M433.5,138.5h0M434.0,150.2h0M432.9,134.3h0M435.5,151.8h0M411.7,125.7h0M416.7,127.8h0M429.9,123.6h0M418.5,135.4h0M425.7,147.3h0M429.2,146.1h0M436.0,120.8h0M432.6,119.8h0M412.9,121.8h0M431.5,132.6h0M417.4,143.0h0M424.5,139.2h0M428.2,110.1h0M443.1,132.2h0M437.3,143.2h0M414.2,149.2h0M434.1,147.0h0M429.0,111.5h0M437.1,138.0h0M417.6,114.0h0M422.1,118.4h0M410.3,142.8h0M437.9,140.8h0M425.4,148.4h0M428.2,130.1h0M415.4,137.2h0M442.3,119.9h0M436.1,124.6h0M435.8,141.5h0M435.5,137.7h0M424.3,151.7h0M430.7,113.8h0M422.2,113.4h0M411.7,135.2h0M415.6,122.3h0M412.1,135.4h0M437.3,126.6h0M426.9,156.4h0M437.2,143.8h0M416.8,127.1h0M420.4,113.5h0M419.5,126.1h0M420.6,148.7h0M413.5,137.7h0M428.4,134.6h0M422.7,114.1h0M418.5,125.8h0M414.8,140.2h0M412.0,138.9h0M437.0,116.1h0M415.0,139.0h0M423.1,146.1h0M431.3,155.8h0M427.0,118.6h0M436.5,129.0h0M437.9,114.9h0M437.0,141.2h0M413.5,114.1h0M413.1,144.7h0M429.1,134.8h0M426.2,125.6h0M412.2,145.6h0M442.3,133.0h0M424.6,150.5h0M429.5,116.3h0M413.1,121.3h0M436.3,140.4h0M422.1,139.3h0M418.7,124.9h0M440.2,119.5h0M421.9,139.1h0M434.9,133.8h0M431.6,136.7h0M426.2,125.7h0M427.3,143.0h0M418.8,145.6h0M441.2,151.5h0M432.3,149.0h0M425.7,139.3h0M411.1,121.6h0M408.3,127.9h0M441.8,132.2h0M423.1,152.1h0M420.5,110.4h0M413.2,126.5h0M436.8,142.9h0M419.9,133.5h0M429.3,107.1h0M427.1,149.5h0M421.2,146.5h0M418.2,126.1h0M411.4,131.6h0M436.7,120.5h0M439.3,147.1h0M420.8,121.9h0M424.4,145.7h0M423.0,120.2h0M440.6,122.2h0M432.1,116.5h0M443.5,127.6h0M421.3,112.1h0M422.2,128.6h0M425.7,153.4h0M429.0,146.9h0M411.9,143.0h0M418.9,124.1h0M437.5,116.5h0M414.7,137.8h0M421.1,120.4h0M431.6,118.3h0M420.9,115.8h0M426.0,147.4h0M419.9,115.2h0M432.2,145.3h0M429.8,120.8h0M424.1,146.1h0" fill="none" stroke="#182015" stroke-width="2.1" stroke-linecap="round"/>
<path d="M448.3,101.2h0M444.0,107.5h0M413.4,107.0h0M406.0,113.8h0M405.5,118.0h0M448.3,128.7h0M444.5,136.0h0M401.7,138.2h0M389.0,154.0h0M393.7,166.3h0M407.0,166.3h0M411.3,170.5h0M419.0,184.0h0M443.0,159.3h0M442.0,165.7h0M445.0,172.0h0M462.4,170.5h0M433.5,170.0h0M426.0,173.0h0M403.8,150.0h0M430.0,104.0h0M421.0,104.5h0M437.0,106.0h0M409.0,128.0h0M407.0,144.0h0M446.0,146.0h0M441.0,152.0h0M415.0,164.0h0M437.0,163.0h0M423.0,167.0h0M445.6,126.2h0M442.9,141.8h0M436.0,111.1h0M417.0,112.2h0M410.6,117.7h0M410.2,121.9h0M407.5,144.7h0M422.4,106.8h0M444.2,125.6h0M407.7,142.1h0M443.1,138.7h0M406.6,139.2h0M408.6,154.9h0M406.9,129.4h0M427.4,156.6h0M417.5,155.1h0M405.3,131.8h0M417.6,112.4h0M441.6,117.2h0M423.9,106.9h0M427.5,107.3h0M411.1,159.0h0M443.4,127.9h0M426.4,107.5h0M405.3,140.2h0M402.0,135.5h0M405.8,133.4h0M411.5,158.2h0M441.2,118.8h0M407.3,122.4h0M422.8,108.8h0M429.4,159.1h0M420.3,111.0h0M441.3,120.3h0M441.6,120.7h0M444.9,126.6h0M406.8,132.8h0M414.7,112.8h0M418.7,156.6h0M405.5,131.5h0M413.2,117.2h0M434.4,110.0h0M441.0,120.5h0M425.3,110.3h0M415.4,113.7h0M429.4,164.2h0M442.5,150.7h0M437.0,114.4h0M431.7,163.6h0M406.0,147.3h0M445.5,138.7h0M436.4,159.2h0M446.9,149.3h0M448.2,138.2h0M445.0,136.9h0M432.9,111.7h0M434.9,160.4h0M412.5,148.9h0M443.8,132.0h0M445.3,139.4h0M411.0,116.2h0M441.0,150.5h0M446.2,138.7h0M427.9,107.6h0M442.1,118.4h0M438.7,113.8h0M407.1,137.8h0M416.1,112.9h0M442.4,149.7h0M438.5,116.8h0" fill="none" stroke="#1a1f18" stroke-width="2.2" stroke-linecap="round"/>
<path d="M419.5,141.7h0M425.3,132.8h0M428.8,145.6h0M428.7,143.1h0M424.8,138.9h0M417.3,126.2h0M434.2,126.8h0M423.9,136.0h0M420.2,124.8h0M412.1,135.2h0M422.5,144.4h0M426.1,132.6h0M413.1,133.1h0M422.3,133.8h0M437.4,135.7h0M421.6,140.6h0M425.2,141.9h0M439.4,133.8h0M428.9,146.9h0M429.2,136.7h0M419.0,134.9h0M431.1,135.0h0M424.2,145.8h0M424.8,141.8h0M424.5,119.4h0M428.5,133.2h0M435.5,140.6h0M426.5,133.1h0M421.1,140.3h0M428.5,115.6h0M413.6,134.4h0M426.7,137.0h0M421.2,125.0h0M428.1,119.2h0M419.9,141.4h0M423.7,128.0h0M431.8,129.8h0M419.6,140.6h0M434.3,138.0h0M421.5,140.4h0M426.8,136.4h0M421.8,136.0h0M424.0,152.8h0M418.6,126.6h0M425.5,133.7h0M425.9,133.9h0M423.6,131.5h0M421.3,136.4h0M428.3,150.7h0M433.1,136.0h0M425.8,133.5h0M422.1,130.1h0M431.4,127.8h0M435.3,123.4h0M427.7,133.5h0M424.9,134.9h0M418.7,132.0h0M415.0,138.7h0M421.7,129.0h0M414.4,139.2h0M423.3,126.5h0M426.3,133.3h0M424.7,134.0h0M430.1,123.9h0M435.3,125.6h0M428.7,131.9h0M421.6,123.8h0M429.7,152.0h0M437.1,126.6h0M425.1,133.1h0M432.6,131.4h0M418.5,142.5h0M425.5,144.6h0M420.8,132.7h0M413.2,124.4h0M428.8,140.8h0M422.7,140.1h0M430.4,128.6h0M419.7,133.9h0M429.7,123.4h0M429.1,139.9h0M411.4,134.1h0M435.8,127.3h0M437.3,125.7h0M432.1,134.5h0M421.7,136.3h0M422.6,127.2h0M418.1,134.4h0M426.9,143.9h0M422.9,130.4h0M431.6,134.9h0M430.4,131.5h0M433.7,147.2h0M432.3,118.9h0M427.4,142.0h0M426.0,129.5h0M431.3,117.7h0M436.8,136.7h0M428.4,115.6h0M412.3,133.7h0M419.8,137.9h0M426.5,143.5h0M421.9,123.0h0M426.1,132.4h0M431.1,126.3h0M424.8,147.0h0M422.8,138.1h0M421.0,144.0h0M414.2,139.2h0M426.7,130.2h0M423.0,144.2h0M425.6,131.2h0M428.8,132.2h0M433.4,136.8h0M429.9,142.1h0M429.7,126.9h0M421.3,140.9h0M435.1,123.9h0M422.7,137.5h0M425.5,133.2h0M426.8,130.8h0M424.6,131.3h0M425.2,123.6h0M420.2,127.6h0" fill="none" stroke="#2d4225" stroke-width="1.1" stroke-linecap="round"/>
<rect x="348.5" y="46.9" width="153.39999999999998" height="153.4" fill="none" stroke="#000" stroke-width="1.5"/>
<line x1="425.2" y1="46.9" x2="425.2" y2="200.3" stroke="#000" stroke-width="1.5"/>
<line x1="348.5" y1="123.6" x2="501.9" y2="123.6" stroke="#000" stroke-width="1.5"/>
<text transform="translate(351.3 65.5)" font-size="17" stroke="#000" stroke-width="0.2" text-anchor="start" fill="#000">Left:</text>
<text transform="translate(351.3 86.5)" font-size="17" stroke="#000" stroke-width="0.2" text-anchor="start" fill="#000">50,0%</text>
<text transform="translate(495.09999999999997 65.5)" font-size="17" stroke="#000" stroke-width="0.2" text-anchor="end" fill="#000">Right:</text>
<text transform="translate(495.09999999999997 86.5)" font-size="17" stroke="#000" stroke-width="0.2" text-anchor="end" fill="#000">50,0%</text>
<text transform="translate(351.8 195.8)" font-size="16.8" font-weight="bold" stroke="#000" stroke-width="0.45" text-anchor="start" fill="#000">CD49d<tspan dy="-7.8" font-size="13.5">+</tspan></text>
<text transform="translate(340.7 51.3) scale(0.95 1)" font-size="17.8" font-weight="bold" stroke="#000" stroke-width="0.45" text-anchor="end" fill="#000">300</text>
<text transform="translate(340.7 77.80000000000001) scale(0.95 1)" font-size="17.8" font-weight="bold" stroke="#000" stroke-width="0.45" text-anchor="end" fill="#000">200</text>
<text transform="translate(340.7 104.30000000000001) scale(0.95 1)" font-size="17.8" font-weight="bold" stroke="#000" stroke-width="0.45" text-anchor="end" fill="#000">100</text>
<text transform="translate(340.7 130.8) scale(0.95 1)" font-size="17.8" font-weight="bold" stroke="#000" stroke-width="0.45" text-anchor="end" fill="#000">0</text>
<text transform="translate(340.7 157.3) scale(0.95 1)" font-size="17.8" font-weight="bold" stroke="#000" stroke-width="0.45" text-anchor="end" fill="#000">-100</text>
<text transform="translate(340.7 183.8) scale(0.95 1)" font-size="17.8" font-weight="bold" stroke="#000" stroke-width="0.45" text-anchor="end" fill="#000">-200</text>
<text transform="translate(340.7 210.3) scale(0.95 1)" font-size="17.8" font-weight="bold" stroke="#000" stroke-width="0.45" text-anchor="end" fill="#000">-300</text>
<text transform="translate(360.0 215.4) rotate(-45) scale(0.97 1)" font-size="17" font-weight="bold" stroke="#000" stroke-width="0.45" text-anchor="end" fill="#000">-300</text>
<text transform="translate(385.5 215.4) rotate(-45) scale(0.97 1)" font-size="17" font-weight="bold" stroke="#000" stroke-width="0.45" text-anchor="end" fill="#000">-200</text>
<text transform="translate(411.0 215.4) rotate(-45) scale(0.97 1)" font-size="17" font-weight="bold" stroke="#000" stroke-width="0.45" text-anchor="end" fill="#000">-100</text>
<text transform="translate(431.0 215.4) rotate(-45) scale(0.97 1)" font-size="17" font-weight="bold" stroke="#000" stroke-width="0.45" text-anchor="end" fill="#000">0</text>
<text transform="translate(462.0 215.4) rotate(-45) scale(0.97 1)" font-size="17" font-weight="bold" stroke="#000" stroke-width="0.45" text-anchor="end" fill="#000">100</text>
<text transform="translate(487.5 215.4) rotate(-45) scale(0.97 1)" font-size="17" font-weight="bold" stroke="#000" stroke-width="0.45" text-anchor="end" fill="#000">200</text>
<text transform="translate(513.0 215.4) rotate(-45) scale(0.97 1)" font-size="17" font-weight="bold" stroke="#000" stroke-width="0.45" text-anchor="end" fill="#000">300</text>
<text transform="translate(418.8 258.7) scale(0.93 1)" font-size="16.5" font-weight="bold" stroke="#000" stroke-width="0.45" text-anchor="middle" fill="#000">Endpoint displacement (µm)</text>
<text transform="translate(298.6 133) rotate(-90) scale(0.93 1)" font-size="16.5" font-weight="bold" stroke="#000" stroke-width="0.45" text-anchor="middle" fill="#000">Endpoint displacement (µm)</text>
<text transform="translate(0.3 299.5)" font-size="17" font-weight="bold" stroke="#000" stroke-width="0.45" text-anchor="start" fill="#000">C</text>
<line x1="77.8" y1="352.15000000000003" x2="77.8" y2="461.35" stroke="#000" stroke-width="1.6"/>
<line x1="73.6" y1="460.6" x2="244.5" y2="460.6" stroke="#000" stroke-width="1.6"/>
<text transform="translate(69.2 466.0)" font-size="16.5" font-weight="bold" stroke="#000" stroke-width="0.45" text-anchor="end" fill="#000">0</text>
<line x1="73.6" y1="442.65000000000003" x2="77.8" y2="442.65000000000003" stroke="#000" stroke-width="1.4"/>
<text transform="translate(69.2 448.05)" font-size="16.5" font-weight="bold" stroke="#000" stroke-width="0.45" text-anchor="end" fill="#000">10</text>
<line x1="73.6" y1="424.70000000000005" x2="77.8" y2="424.70000000000005" stroke="#000" stroke-width="1.4"/>
<text transform="translate(69.2 430.1)" font-size="16.5" font-weight="bold" stroke="#000" stroke-width="0.45" text-anchor="end" fill="#000">20</text>
<line x1="73.6" y1="406.75" x2="77.8" y2="406.75" stroke="#000" stroke-width="1.4"/>
<text transform="translate(69.2 412.15)" font-size="16.5" font-weight="bold" stroke="#000" stroke-width="0.45" text-anchor="end" fill="#000">30</text>
<line x1="73.6" y1="388.8" x2="77.8" y2="388.8" stroke="#000" stroke-width="1.4"/>
<text transform="translate(69.2 394.2)" font-size="16.5" font-weight="bold" stroke="#000" stroke-width="0.45" text-anchor="end" fill="#000">40</text>
<line x1="73.6" y1="370.85" x2="77.8" y2="370.85" stroke="#000" stroke-width="1.4"/>
<text transform="translate(69.2 376.25)" font-size="16.5" font-weight="bold" stroke="#000" stroke-width="0.45" text-anchor="end" fill="#000">50</text>
<line x1="73.6" y1="352.90000000000003" x2="77.8" y2="352.90000000000003" stroke="#000" stroke-width="1.4"/>
<text transform="translate(69.2 358.3)" font-size="16.5" font-weight="bold" stroke="#000" stroke-width="0.45" text-anchor="end" fill="#000">60</text>
<rect x="90.9" y="375.7" width="56.599999999999994" height="84.90000000000003" fill="#161616"/>
<line x1="119.2" y1="375.7" x2="119.2" y2="361.5" stroke="#222" stroke-width="1.2"/>
<line x1="105.10000000000001" y1="361.5" x2="133.3" y2="361.5" stroke="#222" stroke-width="1.2"/>
<text transform="translate(88.5 485.20000000000005)" font-size="17.5" font-weight="bold" stroke="#000" stroke-width="0.45" text-anchor="start" fill="#000">CD49d<tspan dy="-7.8" font-size="13">-</tspan></text>
<rect x="174.25" y="370.5" width="56.25" height="90.10000000000002" fill="#161616"/>
<line x1="202.375" y1="370.5" x2="202.375" y2="367.7" stroke="#222" stroke-width="1.2"/>
<line x1="188.275" y1="367.7" x2="216.475" y2="367.7" stroke="#222" stroke-width="1.2"/>
<text transform="translate(170.8 485.20000000000005)" font-size="17.5" font-weight="bold" stroke="#000" stroke-width="0.45" text-anchor="start" fill="#000">CD49d<tspan dy="-7.8" font-size="13.5">+</tspan></text>
<text transform="translate(18.2 411) rotate(-90) scale(0.93 1)" font-size="16.5" font-weight="bold" stroke="#000" stroke-width="0.45" text-anchor="middle" fill="#000">Fraction of neutrophils</text>
<text transform="translate(37.5 402.5) rotate(-90) scale(0.93 1)" font-size="16.5" font-weight="bold" stroke="#000" stroke-width="0.45" text-anchor="middle" fill="#000">migrating toward VEGF (%)</text>
<text transform="translate(281.2 299.5)" font-size="17" font-weight="bold" stroke="#000" stroke-width="0.45" text-anchor="start" fill="#000">D</text>
<line x1="335.9" y1="351.75" x2="335.9" y2="461.25" stroke="#000" stroke-width="1.6"/>
<line x1="331.7" y1="460.5" x2="501.75" y2="460.5" stroke="#000" stroke-width="1.6"/>
<text transform="translate(329.29999999999995 465.9)" font-size="16.5" font-weight="bold" stroke="#000" stroke-width="0.45" text-anchor="end" fill="#000">0</text>
<line x1="331.7" y1="438.9" x2="335.9" y2="438.9" stroke="#000" stroke-width="1.4"/>
<text transform="translate(329.29999999999995 444.29999999999995)" font-size="16.5" font-weight="bold" stroke="#000" stroke-width="0.45" text-anchor="end" fill="#000">10</text>
<line x1="331.7" y1="417.3" x2="335.9" y2="417.3" stroke="#000" stroke-width="1.4"/>
<text transform="translate(329.29999999999995 422.7)" font-size="16.5" font-weight="bold" stroke="#000" stroke-width="0.45" text-anchor="end" fill="#000">20</text>
<line x1="331.7" y1="395.7" x2="335.9" y2="395.7" stroke="#000" stroke-width="1.4"/>
<text transform="translate(329.29999999999995 401.09999999999997)" font-size="16.5" font-weight="bold" stroke="#000" stroke-width="0.45" text-anchor="end" fill="#000">30</text>
<line x1="331.7" y1="374.1" x2="335.9" y2="374.1" stroke="#000" stroke-width="1.4"/>
<text transform="translate(329.29999999999995 379.5)" font-size="16.5" font-weight="bold" stroke="#000" stroke-width="0.45" text-anchor="end" fill="#000">40</text>
<line x1="331.7" y1="352.5" x2="335.9" y2="352.5" stroke="#000" stroke-width="1.4"/>
<text transform="translate(329.29999999999995 357.9)" font-size="16.5" font-weight="bold" stroke="#000" stroke-width="0.45" text-anchor="end" fill="#000">50</text>
<rect x="349.5" y="438" width="56.0" height="22.5" fill="#161616"/>
<line x1="377.5" y1="438" x2="377.5" y2="431.75" stroke="#222" stroke-width="1.2"/>
<line x1="363.4" y1="431.75" x2="391.6" y2="431.75" stroke="#222" stroke-width="1.2"/>
<text transform="translate(346.8 485.1)" font-size="17.5" font-weight="bold" stroke="#000" stroke-width="0.45" text-anchor="start" fill="#000">CD49d<tspan dy="-7.8" font-size="13">-</tspan></text>
<rect x="432" y="389.5" width="56" height="71.0" fill="#161616"/>
<line x1="460.0" y1="389.5" x2="460.0" y2="372.5" stroke="#222" stroke-width="1.2"/>
<line x1="445.9" y1="372.5" x2="474.1" y2="372.5" stroke="#222" stroke-width="1.2"/>
<text transform="translate(428.8 485.1)" font-size="17.5" font-weight="bold" stroke="#000" stroke-width="0.45" text-anchor="start" fill="#000">CD49d<tspan dy="-7.8" font-size="13.5">+</tspan></text>
<text transform="translate(460 360.8)" font-size="22" font-weight="bold" stroke="#000" stroke-width="0.3" text-anchor="middle" fill="#000">*</text>
<text transform="translate(297.5 398.4) rotate(-90) scale(0.93 1)" font-size="16.4" font-weight="bold" stroke="#000" stroke-width="0.45" text-anchor="middle" fill="#000">Displacement (µm)</text>
<text transform="translate(0.5 534.5)" font-size="17" font-weight="bold" stroke="#000" stroke-width="0.45" text-anchor="start" fill="#000">E</text>
<line x1="80.0" y1="566.05" x2="80.0" y2="676.05" stroke="#000" stroke-width="1.6"/>
<line x1="75.8" y1="675.3" x2="245.5" y2="675.3" stroke="#000" stroke-width="1.6"/>
<text transform="translate(74.0 680.6999999999999)" font-size="16.5" font-weight="bold" stroke="#000" stroke-width="0.45" text-anchor="end" fill="#000">0</text>
<line x1="75.8" y1="653.5999999999999" x2="80.0" y2="653.5999999999999" stroke="#000" stroke-width="1.4"/>
<text transform="translate(74.0 658.9999999999999)" font-size="16.5" font-weight="bold" stroke="#000" stroke-width="0.45" text-anchor="end" fill="#000">25</text>
<line x1="75.8" y1="631.9" x2="80.0" y2="631.9" stroke="#000" stroke-width="1.4"/>
<text transform="translate(74.0 637.3)" font-size="16.5" font-weight="bold" stroke="#000" stroke-width="0.45" text-anchor="end" fill="#000">50</text>
<line x1="75.8" y1="610.1999999999999" x2="80.0" y2="610.1999999999999" stroke="#000" stroke-width="1.4"/>
<text transform="translate(74.0 615.5999999999999)" font-size="16.5" font-weight="bold" stroke="#000" stroke-width="0.45" text-anchor="end" fill="#000">75</text>
<line x1="75.8" y1="588.5" x2="80.0" y2="588.5" stroke="#000" stroke-width="1.4"/>
<text transform="translate(74.0 593.9)" font-size="16.5" font-weight="bold" stroke="#000" stroke-width="0.45" text-anchor="end" fill="#000">100</text>
<line x1="75.8" y1="566.8" x2="80.0" y2="566.8" stroke="#000" stroke-width="1.4"/>
<text transform="translate(74.0 572.1999999999999)" font-size="16.5" font-weight="bold" stroke="#000" stroke-width="0.45" text-anchor="end" fill="#000">125</text>
<rect x="93" y="631.75" width="56.25" height="43.549999999999955" fill="#161616"/>
<line x1="121.125" y1="631.75" x2="121.125" y2="630.5" stroke="#222" stroke-width="1.2"/>
<line x1="107.025" y1="630.5" x2="135.225" y2="630.5" stroke="#222" stroke-width="1.2"/>
<text transform="translate(91.8 698.8)" font-size="17.5" font-weight="bold" stroke="#000" stroke-width="0.45" text-anchor="start" fill="#000">CD49d<tspan dy="-7.8" font-size="13">-</tspan></text>
<rect x="175.75" y="596.25" width="56.25" height="79.04999999999995" fill="#161616"/>
<line x1="203.875" y1="596.25" x2="203.875" y2="583.75" stroke="#222" stroke-width="1.2"/>
<line x1="189.775" y1="583.75" x2="217.975" y2="583.75" stroke="#222" stroke-width="1.2"/>
<text transform="translate(173.05 698.8)" font-size="17.5" font-weight="bold" stroke="#000" stroke-width="0.45" text-anchor="start" fill="#000">CD49d<tspan dy="-7.8" font-size="13.5">+</tspan></text>
<text transform="translate(203.25 572.3)" font-size="22" font-weight="bold" stroke="#000" stroke-width="0.3" text-anchor="middle" fill="#000">*</text>
<text transform="translate(37.5 623) rotate(-90) scale(0.93 1)" font-size="16.5" font-weight="bold" stroke="#000" stroke-width="0.45" text-anchor="middle" fill="#000">Track length (µm)</text>
<text transform="translate(285 534.5)" font-size="17" font-weight="bold" stroke="#000" stroke-width="0.45" text-anchor="start" fill="#000">F</text>
<line x1="331.6" y1="566.05" x2="331.6" y2="676.05" stroke="#000" stroke-width="1.6"/>
<line x1="327.40000000000003" y1="675.3" x2="497.5" y2="675.3" stroke="#000" stroke-width="1.6"/>
<text transform="translate(325.40000000000003 680.6999999999999)" font-size="16.5" font-weight="bold" stroke="#000" stroke-width="0.45" text-anchor="end" fill="#000">0</text>
<line x1="327.40000000000003" y1="653.5999999999999" x2="331.6" y2="653.5999999999999" stroke="#000" stroke-width="1.4"/>
<text transform="translate(325.40000000000003 658.9999999999999)" font-size="16.5" font-weight="bold" stroke="#000" stroke-width="0.45" text-anchor="end" fill="#000">1</text>
<line x1="327.40000000000003" y1="631.9" x2="331.6" y2="631.9" stroke="#000" stroke-width="1.4"/>
<text transform="translate(325.40000000000003 637.3)" font-size="16.5" font-weight="bold" stroke="#000" stroke-width="0.45" text-anchor="end" fill="#000">2</text>
<line x1="327.40000000000003" y1="610.1999999999999" x2="331.6" y2="610.1999999999999" stroke="#000" stroke-width="1.4"/>
<text transform="translate(325.40000000000003 615.5999999999999)" font-size="16.5" font-weight="bold" stroke="#000" stroke-width="0.45" text-anchor="end" fill="#000">3</text>
<line x1="327.40000000000003" y1="588.5" x2="331.6" y2="588.5" stroke="#000" stroke-width="1.4"/>
<text transform="translate(325.40000000000003 593.9)" font-size="16.5" font-weight="bold" stroke="#000" stroke-width="0.45" text-anchor="end" fill="#000">4</text>
<line x1="327.40000000000003" y1="566.8" x2="331.6" y2="566.8" stroke="#000" stroke-width="1.4"/>
<text transform="translate(325.40000000000003 572.1999999999999)" font-size="16.5" font-weight="bold" stroke="#000" stroke-width="0.45" text-anchor="end" fill="#000">5</text>
<rect x="344.5" y="643.75" width="56.25" height="31.549999999999955" fill="#161616"/>
<line x1="372.625" y1="643.75" x2="372.625" y2="641.25" stroke="#222" stroke-width="1.2"/>
<line x1="358.525" y1="641.25" x2="386.725" y2="641.25" stroke="#222" stroke-width="1.2"/>
<text transform="translate(344.8 698.8)" font-size="17.5" font-weight="bold" stroke="#000" stroke-width="0.45" text-anchor="start" fill="#000">CD49d<tspan dy="-7.8" font-size="13">-</tspan></text>
<rect x="427.5" y="596.75" width="56.75" height="78.54999999999995" fill="#161616"/>
<line x1="455.875" y1="596.75" x2="455.875" y2="585.5" stroke="#222" stroke-width="1.2"/>
<line x1="441.775" y1="585.5" x2="469.975" y2="585.5" stroke="#222" stroke-width="1.2"/>
<text transform="translate(423.05 698.8)" font-size="17.5" font-weight="bold" stroke="#000" stroke-width="0.45" text-anchor="start" fill="#000">CD49d<tspan dy="-7.8" font-size="13.5">+</tspan></text>
<text transform="translate(455.5 572.3)" font-size="22" font-weight="bold" stroke="#000" stroke-width="0.3" text-anchor="middle" fill="#000">*</text>
<text transform="translate(300.5 627) rotate(-90) scale(0.93 1)" font-size="16.45" font-weight="bold" stroke="#000" stroke-width="0.45" text-anchor="middle" fill="#000">Velocity (µm/min)</text>
</svg></body></html>
